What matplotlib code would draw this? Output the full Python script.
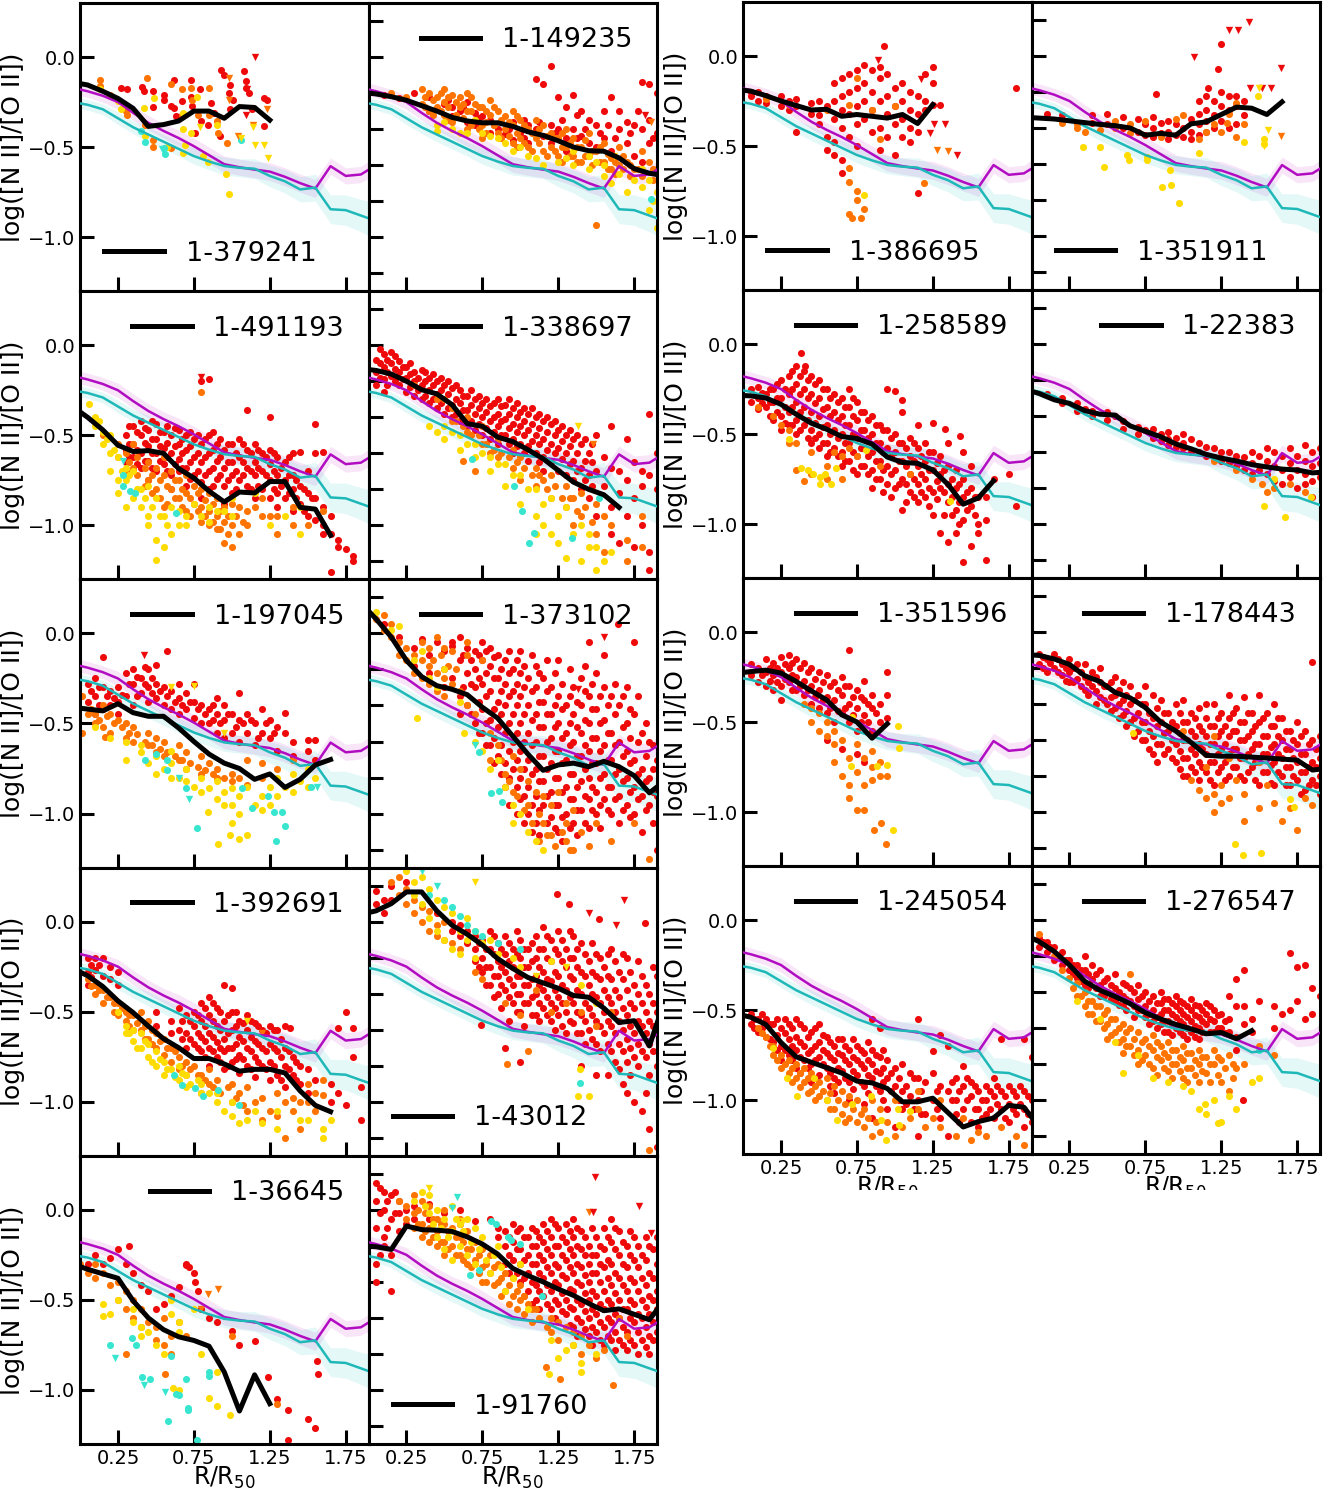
import numpy as np
import matplotlib.pyplot as plt
from matplotlib.patches import Rectangle

# radial bins (R/R50) shared by the reference profiles and the galaxy medians
r_grid = [-0.05, 0.05, 0.15, 0.25, 0.35, 0.45, 0.55, 0.65, 0.75, 0.85, 0.95,
          1.05, 1.15, 1.25, 1.35, 1.45, 1.55, 1.65, 1.75, 1.85, 1.95]

# reference profiles (magenta / cyan) with their scatter
ref_m = [-0.17, -0.19, -0.215, -0.25, -0.31, -0.365, -0.41, -0.45, -0.495, -0.545, -0.595,
         -0.612, -0.625, -0.636, -0.665, -0.70, -0.73, -0.606, -0.66, -0.652, -0.60]
ref_m_err = [0.035, 0.035, 0.035, 0.04, 0.04, 0.04, 0.04, 0.045, 0.045, 0.045, 0.045,
             0.045, 0.045, 0.05, 0.05, 0.05, 0.05, 0.045, 0.045, 0.045, 0.05]
ref_c = [-0.25, -0.265, -0.29, -0.34, -0.39, -0.43, -0.47, -0.51, -0.55, -0.58, -0.605,
         -0.615, -0.62, -0.66, -0.69, -0.735, -0.725, -0.845, -0.85, -0.88, -0.91]
ref_c_err = [0.03, 0.03, 0.03, 0.035, 0.035, 0.04, 0.04, 0.04, 0.045, 0.045, 0.05,
             0.05, 0.055, 0.06, 0.065, 0.07, 0.075, 0.08, 0.085, 0.09, 0.10]

# ---------------- 1-379241 ----------------
med_379241 = [-0.14, -0.155, -0.19, -0.23, -0.285, -0.385, -0.375, -0.355, -0.30, -0.30, -0.34, -0.275, -0.28, -0.35]
red_379241 = [(0.27, [-0.17]), (0.31, [-0.18]), (0.41, [-0.165]), (0.42, [-0.19]), (0.48, [-0.28, -0.19]),
              (0.55, [-0.21, -0.236]), (0.60, [-0.27]), (0.62, [-0.282, -0.125]), (0.63, [-0.33]), (0.67, [-0.245]),
              (0.73, [-0.13, -0.22]), (0.74, [-0.27]), (0.76, [-0.42]), (0.79, [-0.18]), (0.80, [-0.357]),
              (0.84, [-0.375]), (0.86, [-0.255]), (0.88, [-0.31]), (0.92, [-0.44]), (0.93, [-0.07]),
              (0.95, [-0.097]), (0.98, [-0.20]), (0.99, [-0.153, -0.29]), (1.01, [-0.236]), (1.08, [-0.079]),
              (1.09, [-0.134, -0.17]), (1.11, [-0.20]), (1.13, [-0.29]), (1.21, [-0.227, -0.384]), (1.23, [-0.236])]
orange_379241 = [(0.13, [-0.13, -0.16]), (0.20, [-0.21]), (0.30, [-0.30]), (0.31, [-0.32]), (0.43, [-0.375]),
                 (0.44, [-0.117]), (0.48, [-0.46, -0.50]), (0.60, [-0.505, -0.15]), (0.67, [-0.18, -0.32]),
                 (0.73, [-0.17]), (0.74, [-0.24]), (0.78, [-0.32]), (0.85, [-0.17, -0.32]), (0.90, [-0.357]),
                 (0.91, [-0.42]), (0.97, [-0.48])]
yellow_379241 = [(0.13, [-0.18]), (0.25, [-0.245]), (0.27, [-0.29]), (0.42, [-0.282]), (0.43, [-0.44]),
                 (0.49, [-0.227]), (0.57, [-0.50]), (0.68, [-0.31, -0.40, -0.53]), (0.69, [-0.486]), (0.73, [-0.42]),
                 (0.77, [-0.22]), (0.81, [-0.55]), (0.84, [-0.58]), (0.90, [-0.38]), (0.96, [-0.65]), (0.98, [-0.76])]
cyan_379241 = [(0.40, [-0.41]), (0.43, [-0.47]), (0.55, [-0.505]), (0.56, [-0.54]), (1.06, [-0.46])]
tri_379241 = [(1.15, 0.0, 'r'), (1.10, -0.18, 'r'), (1.09, -0.32, 'r'), (1.04, -0.44, 'o'), (1.14, -0.375, 'o'),
              (1.23, -0.29, 'o'), (0.98, -0.236, 'o'), (0.98, -0.115, 'o'), (0.79, -0.39, 'y'), (1.14, -0.39, 'y'),
              (1.15, -0.486, 'y'), (1.21, -0.486, 'y'), (1.24, -0.56, 'y'), (1.06, -0.45, 'y'), (0.54, -0.51, 'c')]

# ---------------- 1-149235 ----------------
med_149235 = [-0.195, -0.205, -0.22, -0.24, -0.27, -0.30, -0.335, -0.355, -0.365, -0.365, -0.385,
              -0.415, -0.435, -0.465, -0.50, -0.52, -0.523, -0.56, -0.62, -0.645, -0.66]
red_149235 = [(0.10, [-0.21]), (0.20, [-0.23]), (0.30, [-0.20]), (0.40, [-0.22, -0.30]), (0.50, [-0.26]),
              (0.55, [-0.28, -0.33]), (0.60, [-0.30]), (0.65, [-0.25, -0.36]), (0.70, [-0.31, -0.38]),
              (0.75, [-0.33]), (0.80, [-0.35, -0.42]), (0.85, [-0.40]), (0.90, [-0.43]), (0.95, [-0.36, -0.46]),
              (1.00, [-0.42]), (1.05, [-0.38, -0.48]), (1.10, [-0.12, -0.40]), (1.15, [-0.15, -0.44]),
              (1.20, [-0.05, -0.38, -0.48]), (1.25, [-0.22, -0.40]), (1.30, [-0.28, -0.45, -0.52]),
              (1.35, [-0.21, -0.40]), (1.40, [-0.30, -0.44]), (1.45, [-0.35, -0.48]), (1.50, [-0.38, -0.50]),
              (1.55, [-0.30, -0.45]), (1.60, [-0.22, -0.52]), (1.65, [-0.30, -0.40]), (1.70, [-0.36, -0.48]),
              (1.75, [-0.38, -0.55]), (1.80, [-0.14, -0.40, -0.58]), (1.85, [-0.15, -0.35, -0.48]),
              (1.90, [-0.20, -0.42])]
red_149235_b = [(0.525, [-0.24]), (0.625, [-0.28]), (0.725, [-0.34]), (0.825, [-0.38]), (0.925, [-0.40]),
                (1.025, [-0.35, -0.45]), (1.125, [-0.36]), (1.225, [-0.42]), (1.275, [-0.35]), (1.375, [-0.32, -0.45]),
                (1.425, [-0.40]), (1.525, [-0.42]), (1.575, [-0.38]), (1.625, [-0.45]), (1.725, [-0.42]),
                (1.775, [-0.30]), (1.875, [-0.45])]
orange_149235 = [(0.15, [-0.20]), (0.25, [-0.22]), (0.35, [-0.18, -0.26]), (0.40, [-0.20, -0.30]),
                 (0.45, [-0.22, -0.28]), (0.50, [-0.18, -0.25, -0.32]), (0.55, [-0.21, -0.36]), (0.60, [-0.22, -0.28]),
                 (0.65, [-0.20, -0.30, -0.40]), (0.70, [-0.26, -0.35]), (0.75, [-0.28, -0.38, -0.45]),
                 (0.80, [-0.24, -0.32]), (0.85, [-0.30, -0.42]), (0.90, [-0.33, -0.40]), (0.95, [-0.30, -0.38, -0.48]),
                 (1.00, [-0.35, -0.45]), (1.05, [-0.40, -0.50]), (1.10, [-0.35, -0.45]), (1.15, [-0.38, -0.52]),
                 (1.20, [-0.42, -0.50]), (1.25, [-0.45, -0.55]), (1.30, [-0.40, -0.50]), (1.35, [-0.45, -0.55]),
                 (1.40, [-0.50, -0.58]), (1.45, [-0.42, -0.55]), (1.50, [-0.52, -0.93]), (1.55, [-0.48, -0.58]),
                 (1.60, [-0.56, -0.62]), (1.65, [-0.50, -0.60]), (1.70, [-0.58]), (1.75, [-0.62]),
                 (1.80, [-0.52, -0.66]), (1.85, [-0.58]), (1.90, [-0.62])]
orange_149235_b = [(0.375, [-0.22, -0.28]), (0.425, [-0.24, -0.32]), (0.475, [-0.20, -0.30]),
                   (0.525, [-0.22, -0.28, -0.35]), (0.575, [-0.25, -0.32]), (0.625, [-0.26, -0.34]),
                   (0.675, [-0.22, -0.30, -0.38]), (0.725, [-0.28, -0.40]), (0.775, [-0.30, -0.36, -0.42]),
                   (0.825, [-0.28, -0.38]), (0.875, [-0.35, -0.45]), (0.925, [-0.36, -0.44]),
                   (0.975, [-0.33, -0.42, -0.50]), (1.025, [-0.38, -0.48]), (1.075, [-0.42, -0.52]),
                   (1.125, [-0.40, -0.48]), (1.175, [-0.44, -0.55]), (1.225, [-0.45, -0.52]),
                   (1.275, [-0.42, -0.50, -0.58]), (1.325, [-0.48, -0.55]), (1.375, [-0.50, -0.58]),
                   (1.425, [-0.46, -0.55]), (1.475, [-0.52, -0.60]), (1.525, [-0.50, -0.58]), (1.575, [-0.54, -0.62]),
                   (1.625, [-0.58, -0.65]), (1.675, [-0.55, -0.62]), (1.725, [-0.60, -0.66]), (1.775, [-0.62]),
                   (1.875, [-0.62, -0.68])]
yellow_149235 = [(0.45, [-0.38, -0.41]), (0.50, [-0.36]), (0.55, [-0.40]), (0.60, [-0.42]), (0.65, [-0.42]),
                 (0.70, [-0.35]), (0.75, [-0.42]), (0.80, [-0.44]), (0.85, [-0.45]), (0.90, [-0.48]), (0.95, [-0.52]),
                 (1.00, [-0.50]), (1.05, [-0.55]), (1.10, [-0.56]), (1.15, [-0.60]), (1.25, [-0.58]), (1.30, [-0.56]),
                 (1.35, [-0.52, -0.60]), (1.45, [-0.55, -0.62]), (1.50, [-0.58]), (1.55, [-0.60, -0.66]),
                 (1.60, [-0.70]), (1.65, [-0.65]), (1.70, [-0.75]), (1.75, [-0.68]), (1.80, [-0.62, -0.72]),
                 (1.85, [-0.68, -0.85]), (1.875, [-0.80]), (1.90, [-0.75, -0.95])]
cyan_149235 = [(1.86, [-0.79])]
tri_149235 = [(1.82, -0.32, 'r'), (1.86, -0.36, 'o'), (1.62, -0.55, 'y')]

# ---------------- 1-491193 ----------------
med_491193 = [-0.34, -0.40, -0.47, -0.555, -0.59, -0.585, -0.60, -0.685, -0.737, -0.81, -0.87,
              -0.815, -0.82, -0.757, -0.757, -0.90, -0.91, -1.055]
red_491193 = [(0.30, [-0.50, -0.58, -0.65]), (0.35, [-0.45, -0.55, -0.62, -0.70]), (0.40, [-0.42, -0.50, -0.60, -0.68]),
              (0.45, [-0.47, -0.56, -0.64, -0.75]), (0.50, [-0.44, -0.52, -0.60, -0.70]), (0.55, [-0.48, -0.57, -0.66]),
              (0.60, [-0.50, -0.60, -0.72, -0.80]), (0.65, [-0.47, -0.55, -0.63, -0.70]),
              (0.70, [-0.50, -0.58, -0.68, -0.78]), (0.75, [-0.52, -0.62, -0.72]),
              (0.80, [-0.20, -0.55, -0.65, -0.76, -0.85]), (0.85, [-0.19, -0.50, -0.60, -0.70, -0.80]),
              (0.90, [-0.55, -0.64, -0.74]), (0.95, [-0.58, -0.68, -0.78, -0.88]), (1.00, [-0.55, -0.65, -0.72, -0.82]),
              (1.05, [-0.52, -0.62, -0.75]), (1.10, [-0.36, -0.58, -0.68, -0.78]), (1.15, [-0.55, -0.65, -0.72, -0.85]),
              (1.20, [-0.60, -0.70, -0.80]), (1.25, [-0.40, -0.58, -0.66, -0.75, -0.85]),
              (1.30, [-0.62, -0.72, -0.82, -0.90]), (1.35, [-0.65, -0.75, -0.85]), (1.40, [-0.60, -0.72, -0.80, -0.92]),
              (1.45, [-0.59, -0.78, -0.88]), (1.50, [-0.70, -0.82, -0.95]), (1.55, [-0.44, -0.60, -0.85, -0.97]),
              (1.60, [-0.59, -0.90, -1.00, -1.05]), (1.65, [-0.95, -1.05, -1.26]), (1.70, [-1.08, -1.12]),
              (1.75, [-1.13]), (1.80, [-1.17, -1.20])]
red_491193_b = [(0.325, [-0.45, -0.55, -0.62]), (0.375, [-0.48, -0.58, -0.66]), (0.425, [-0.46, -0.54, -0.64]),
                (0.475, [-0.42, -0.52, -0.60, -0.68]), (0.525, [-0.48, -0.56, -0.64]),
                (0.575, [-0.45, -0.54, -0.62, -0.70]), (0.625, [-0.46, -0.56, -0.66]), (0.675, [-0.52, -0.60, -0.68]),
                (0.725, [-0.48, -0.56, -0.65, -0.74]), (0.775, [-0.50, -0.60, -0.70]), (0.825, [-0.52, -0.62, -0.72]),
                (0.875, [-0.48, -0.58, -0.68, -0.78]), (0.925, [-0.52, -0.62, -0.72]), (0.975, [-0.55, -0.65, -0.75]),
                (1.025, [-0.60, -0.70, -0.80]), (1.075, [-0.55, -0.65, -0.72]), (1.125, [-0.60, -0.70, -0.80]),
                (1.175, [-0.58, -0.68, -0.78]), (1.225, [-0.62, -0.72]), (1.275, [-0.60, -0.70, -0.80]),
                (1.325, [-0.68, -0.78]), (1.375, [-0.62, -0.72, -0.82]), (1.425, [-0.75, -0.85]),
                (1.475, [-0.80, -0.92]), (1.525, [-0.85])]
orange_491193 = [(0.15, [-0.50]), (0.25, [-0.55, -0.62]), (0.30, [-0.60, -0.70]), (0.35, [-0.55, -0.68]),
                 (0.45, [-0.65, -0.75]), (0.50, [-0.68, -0.80]), (0.55, [-0.62, -0.72, -0.90]), (0.60, [-0.70, -0.80]),
                 (0.65, [-0.75, -0.85]), (0.70, [-0.72, -0.82, -0.92]), (0.75, [-0.78, -0.88]),
                 (0.80, [-0.26, -0.80, -0.90, -0.98]), (0.85, [-0.82, -0.92, -1.00]), (0.90, [-0.85, -0.95, -1.02]),
                 (0.95, [-0.90, -0.98, -1.10]), (1.00, [-0.88, -1.00, -1.12]), (1.05, [-0.90, -1.05]),
                 (1.10, [-0.92, -1.00]), (1.20, [-0.85, -0.95]), (1.30, [-0.95, -1.05]), (1.40, [-0.90, -1.00]),
                 (1.50, [-1.00]), (1.60, [-0.92])]
orange_491193_b = [(0.325, [-0.65]), (0.375, [-0.62, -0.72]), (0.425, [-0.68, -0.78]), (0.475, [-0.72, -0.82]),
                   (0.525, [-0.75, -0.85]), (0.575, [-0.78, -0.88]), (0.625, [-0.75, -0.85]), (0.675, [-0.80, -0.90]),
                   (0.725, [-0.85, -0.95]), (0.775, [-0.82, -0.92]), (0.825, [-0.86, -0.95]), (0.875, [-0.88, -0.98]),
                   (0.925, [-0.92, -1.02]), (0.975, [-0.95, -1.05]), (1.025, [-0.95]), (1.075, [-0.98]),
                   (1.15, [-0.90]), (1.25, [-0.95])]
yellow_491193 = [(0.06, [-0.325]), (0.10, [-0.40, -0.45]), (0.125, [-0.42]), (0.15, [-0.48, -0.55]), (0.175, [-0.52]),
                 (0.20, [-0.50, -0.60, -0.70]), (0.225, [-0.58]), (0.25, [-0.62, -0.75, -0.82]), (0.275, [-0.70]),
                 (0.30, [-0.68, -0.75, -0.90]), (0.325, [-0.72]), (0.35, [-0.70, -0.85]), (0.375, [-0.80]),
                 (0.40, [-0.80, -0.90]), (0.425, [-0.85]), (0.45, [-0.78, -0.95, -1.00]), (0.475, [-0.90]),
                 (0.50, [-0.85, -1.08, -1.19]), (0.525, [-0.95]), (0.55, [-0.95, -1.12]), (0.575, [-1.00]),
                 (0.60, [-0.90, -1.05]), (0.65, [-0.92, -1.00]), (0.70, [-0.95, -1.00]), (0.75, [-0.88]),
                 (0.80, [-0.95]), (0.85, [-0.90, -0.98]), (0.90, [-0.92]), (0.95, [-0.92]), (1.00, [-0.85, -0.95]),
                 (1.15, [-0.82]), (1.25, [-1.00]), (1.35, [-0.95]), (1.45, [-0.90, -1.05])]
cyan_491193 = [(0.28, [-0.72, -0.78]), (0.33, [-0.81]), (0.36, [-0.82]), (0.63, [-0.93])]
tri_491193 = [(0.80, -0.175, 'r'), (0.28, -0.64, 'c')]

# ---------------- 1-338697 ----------------
med_338697 = [-0.13, -0.14, -0.16, -0.20, -0.247, -0.27, -0.33, -0.435, -0.45, -0.51, -0.535,
              -0.58, -0.63, -0.695, -0.76, -0.80, -0.83, -0.90]
red_338697 = [(0.05, [-0.08, -0.15, -0.22]), (0.10, [-0.05, -0.12, -0.19, -0.26]), (0.15, [-0.04, -0.10, -0.17]),
              (0.20, [-0.09, -0.15, -0.22]), (0.25, [-0.12, -0.18, -0.26]), (0.30, [-0.15, -0.20, -0.28]),
              (0.35, [-0.14, -0.22, -0.30]), (0.40, [-0.18, -0.25, -0.32]), (0.45, [-0.20, -0.27, -0.35]),
              (0.50, [-0.22, -0.30, -0.38]), (0.55, [-0.24, -0.33, -0.40]), (0.60, [-0.25, -0.32, -0.42]),
              (0.65, [-0.28, -0.36, -0.45]), (0.70, [-0.30, -0.38, -0.47]), (0.75, [-0.32, -0.40, -0.50]),
              (0.80, [-0.34, -0.42, -0.52]), (0.85, [-0.30, -0.38, -0.45, -0.55]), (0.90, [-0.33, -0.41, -0.50]),
              (0.95, [-0.35, -0.44, -0.52, -0.60]), (1.00, [-0.37, -0.45, -0.55]), (1.05, [-0.38, -0.47, -0.56, -0.64]),
              (1.10, [-0.40, -0.50, -0.60]), (1.15, [-0.42, -0.52, -0.62, -0.70]), (1.20, [-0.44, -0.55, -0.65]),
              (1.25, [-0.47, -0.57, -0.70]), (1.30, [-0.50, -0.60, -0.72]), (1.35, [-0.52, -0.64, -0.75]),
              (1.40, [-0.55, -0.68, -0.80]), (1.45, [-0.60, -0.72, -0.85]), (1.50, [-0.50, -0.70, -0.95]),
              (1.55, [-0.62, -0.78]), (1.60, [-0.45, -0.68, -0.90, -1.05]), (1.65, [-0.70, -0.82, -1.10]),
              (1.70, [-0.52, -0.75, -0.95]), (1.75, [-0.65, -0.85, -1.12]), (1.80, [-0.70, -0.78, -1.00]),
              (1.85, [-0.38, -0.72, -1.15, -1.25]), (1.90, [-0.60, -0.80])]
red_338697_b = [(0.075, [-0.02, -0.10, -0.18]), (0.125, [-0.08, -0.15, -0.22]), (0.175, [-0.06, -0.13, -0.20]),
                (0.225, [-0.12, -0.19]), (0.275, [-0.10, -0.16, -0.23]), (0.325, [-0.18, -0.25]),
                (0.375, [-0.15, -0.20, -0.28]), (0.425, [-0.16, -0.22, -0.30]), (0.475, [-0.18, -0.25, -0.32]),
                (0.525, [-0.20, -0.27, -0.35]), (0.575, [-0.22, -0.30, -0.38]), (0.625, [-0.28, -0.36]),
                (0.675, [-0.25, -0.33, -0.42]), (0.725, [-0.28, -0.35, -0.44]), (0.775, [-0.30, -0.37, -0.46]),
                (0.825, [-0.32, -0.40, -0.48]), (0.875, [-0.34, -0.42, -0.50]), (0.925, [-0.30, -0.38, -0.46, -0.55]),
                (0.975, [-0.32, -0.40, -0.48, -0.56]), (1.025, [-0.35, -0.42, -0.50, -0.60]),
                (1.075, [-0.35, -0.44, -0.53]), (1.125, [-0.38, -0.46, -0.55, -0.65]), (1.175, [-0.40, -0.48, -0.58]),
                (1.225, [-0.42, -0.50, -0.60]), (1.275, [-0.45, -0.53, -0.63]), (1.325, [-0.47, -0.56, -0.66]),
                (1.375, [-0.50, -0.60, -0.70]), (1.425, [-0.52, -0.64, -0.75]), (1.475, [-0.55, -0.65, -0.78])]
orange_338697 = [(0.30, [-0.22]), (0.45, [-0.30]), (0.50, [-0.30]), (0.55, [-0.35, -0.42]), (0.575, [-0.42]),
                 (0.62, [-0.64]), (0.625, [-0.45]), (0.65, [-0.40, -0.48]), (0.675, [-0.50]), (0.70, [-0.70]),
                 (0.725, [-0.50]), (0.75, [-0.45, -0.55]), (0.775, [-0.55]), (0.80, [-0.60]), (0.825, [-0.58]),
                 (0.85, [-0.52, -0.62]), (0.875, [-0.60]), (0.925, [-0.62]), (0.95, [-0.58, -0.68]), (0.975, [-0.65]),
                 (1.00, [-0.62, -0.75]), (1.025, [-0.68]), (1.075, [-0.72]), (1.10, [-0.68, -0.78]), (1.125, [-0.72]),
                 (1.15, [-0.75]), (1.175, [-0.80]), (1.20, [-0.72, -0.85]), (1.225, [-0.78]), (1.275, [-0.85]),
                 (1.30, [-0.78, -0.90]), (1.325, [-0.85]), (1.35, [-0.85, -1.00]), (1.375, [-0.92]),
                 (1.40, [-0.82, -0.95]), (1.425, [-0.90]), (1.475, [-0.98]), (1.50, [-0.88, -1.05]),
                 (1.55, [-0.95, -1.15]), (1.60, [-1.00]), (1.70, [-1.08, -1.20]), (1.80, [-0.95, -1.12])]
yellow_338697 = [(0.40, [-0.45]), (0.45, [-0.48]), (0.50, [-0.45, -0.52]), (0.55, [-0.48]), (0.60, [-0.50, -0.58]),
                 (0.65, [-0.55]), (0.70, [-0.55, -0.62]), (0.75, [-0.60]), (0.80, [-0.62, -0.70]), (0.85, [-0.66]),
                 (0.90, [-0.66, -0.78]), (0.95, [-0.72]), (1.00, [-0.72, -0.88]), (1.05, [-0.80]),
                 (1.10, [-0.80, -0.95, -1.05]), (1.15, [-0.88, -1.00]), (1.20, [-0.85, -1.05]), (1.25, [-0.95, -1.10]),
                 (1.30, [-0.90, -1.18]), (1.35, [-1.05]), (1.40, [-1.00, -1.20]), (1.45, [-1.05, -1.12]),
                 (1.50, [-1.12, -1.25]), (1.55, [-1.20]), (1.60, [-1.15])]
cyan_338697 = [(0.68, [-0.63]), (0.96, [-0.78]), (1.01, [-0.92]), (1.06, [-1.10]), (1.09, [-1.04]),
               (1.34, [-1.07]), (1.52, [-0.85])]
tri_338697 = [(1.38, -0.45, 'y'), (1.48, -0.55, 'o')]

# ---------------- 1-197045 ----------------
med_197045 = [-0.41, -0.42, -0.43, -0.39, -0.44, -0.46, -0.46, -0.525, -0.60, -0.67, -0.72,
              -0.75, -0.81, -0.78, -0.855, -0.81, -0.73, -0.70]
red_197045 = [(0.05, [-0.28, -0.38]), (0.075, [-0.32]), (0.10, [-0.25, -0.35, -0.45]), (0.125, [-0.30, -0.40]),
              (0.15, [-0.13, -0.30, -0.42]), (0.175, [-0.35]), (0.20, [-0.32, -0.40]), (0.225, [-0.36]),
              (0.25, [-0.30, -0.38, -0.45]), (0.275, [-0.34]), (0.30, [-0.22, -0.35]), (0.325, [-0.28]),
              (0.35, [-0.20, -0.28, -0.40]), (0.375, [-0.24, -0.35]), (0.40, [-0.25, -0.33]), (0.425, [-0.28]),
              (0.43, [-0.185]), (0.45, [-0.20, -0.30, -0.38]), (0.475, [-0.25, -0.33]), (0.50, [-0.175, -0.28, -0.36]),
              (0.525, [-0.32]), (0.55, [-0.30, -0.40]), (0.57, [-0.10]), (0.575, [-0.35]), (0.60, [-0.32, -0.42]),
              (0.625, [-0.38]), (0.65, [-0.28, -0.36, -0.45]), (0.675, [-0.40]), (0.70, [-0.33, -0.42]),
              (0.725, [-0.38]), (0.75, [-0.28, -0.38, -0.47]), (0.775, [-0.42]), (0.80, [-0.40, -0.50]),
              (0.825, [-0.45]), (0.85, [-0.42, -0.50]), (0.875, [-0.40, -0.48]), (0.90, [-0.36, -0.45, -0.55]),
              (0.925, [-0.50]), (0.95, [-0.40, -0.48, -0.58]), (0.975, [-0.45]), (1.00, [-0.45, -0.55]),
              (1.025, [-0.52]), (1.05, [-0.33, -0.48, -0.60]), (1.075, [-0.50]), (1.10, [-0.45, -0.55]),
              (1.125, [-0.48]), (1.15, [-0.50, -0.62]), (1.175, [-0.58]), (1.20, [-0.42, -0.55]), (1.225, [-0.50]),
              (1.25, [-0.48, -0.58]), (1.275, [-0.55]), (1.30, [-0.52, -0.65]), (1.35, [-0.44, -0.55]),
              (1.40, [-0.60, -0.68]), (1.50, [-0.59, -0.65]), (1.55, [-0.59, -0.70])]
orange_197045 = [(0.01, [-0.35, -0.555]), (0.05, [-0.45]), (0.075, [-0.42]), (0.10, [-0.45, -0.50]), (0.125, [-0.48]),
                 (0.15, [-0.40, -0.52]), (0.165, [-0.576]), (0.175, [-0.46]), (0.20, [-0.45, -0.55]), (0.225, [-0.50]),
                 (0.25, [-0.48]), (0.275, [-0.52]), (0.30, [-0.50, -0.58]), (0.325, [-0.55]), (0.35, [-0.52, -0.60]),
                 (0.375, [-0.56]), (0.425, [-0.60]), (0.45, [-0.55, -0.62]), (0.475, [-0.62]), (0.50, [-0.58, -0.66]),
                 (0.525, [-0.64]), (0.55, [-0.60, -0.68]), (0.575, [-0.66]), (0.625, [-0.68]), (0.65, [-0.62, -0.70]),
                 (0.675, [-0.70]), (0.70, [-0.66, -0.75]), (0.725, [-0.72]), (0.775, [-0.74]), (0.80, [-0.68, -0.78]),
                 (0.825, [-0.76]), (0.85, [-0.72]), (0.875, [-0.78]), (0.90, [-0.75, -0.80]), (0.95, [-0.80]),
                 (1.00, [-0.78, -0.82]), (1.05, [-0.80]), (1.10, [-0.70, -0.84]), (1.20, [-0.72, -0.80]),
                 (1.30, [-0.75]), (1.40, [-0.70])]
yellow_197045 = [(0.10, [-0.52]), (0.20, [-0.58]), (0.30, [-0.60, -0.70]), (0.40, [-0.62, -0.66]), (0.45, [-0.72]),
                 (0.50, [-0.68, -0.78]), (0.55, [-0.75]), (0.60, [-0.65, -0.72, -0.80]), (0.65, [-0.80]),
                 (0.70, [-0.75, -0.82]), (0.75, [-0.85]), (0.80, [-0.80, -0.88]), (0.84, [-0.99]), (0.85, [-0.86]),
                 (0.90, [-0.82, -0.92]), (0.91, [-1.17]), (0.95, [-0.88, -0.95]), (0.99, [-1.12]),
                 (1.00, [-0.86, -0.95, -1.05]), (1.05, [-0.90, -1.00, -1.14]), (1.10, [-0.85, -1.12]),
                 (1.15, [-0.95]), (1.20, [-0.90, -0.98]), (1.25, [-0.85, -0.95]), (1.30, [-0.80, -0.90]),
                 (1.35, [-0.85]), (1.40, [-0.78, -0.88]), (1.45, [-0.82]), (1.50, [-0.75, -0.85]), (1.55, [-0.80])]
cyan_197045 = [(0.43, [-0.70]), (0.50, [-0.67]), (0.57, [-0.70, -0.76]), (0.70, [-0.86]), (0.77, [-1.08]),
               (1.07, [-0.86]), (1.13, [-0.97]), (1.24, [-0.90]), (1.28, [-0.99]), (1.29, [-1.15]),
               (1.33, [-0.99]), (1.35, [-1.07]), (1.52, [-0.85])]
tri_197045 = [(0.42, -0.12, 'r'), (0.65, -0.80, 'c'), (0.72, -0.92, 'c'), (0.60, -0.30, 'y'), (0.75, -0.29, 'y'),
              (0.95, -0.55, 'y'), (1.56, -0.85, 'c')]

# ---------------- 1-373102 ----------------
med_373102 = [0.17, 0.08, -0.02, -0.15, -0.24, -0.29, -0.31, -0.34, -0.41, -0.47, -0.57,
              -0.67, -0.76, -0.73, -0.72, -0.74, -0.71, -0.74, -0.79, -0.885, -0.82]
red_373102 = [(0.10, [0.05]), (0.20, [-0.02]), (0.30, [-0.08, -0.18]), (0.35, [-0.03]), (0.40, [-0.12, -0.22]),
              (0.45, [-0.05]), (0.50, [-0.10, -0.20, -0.30]), (0.55, [-0.05, -0.07, -0.25]),
              (0.60, [-0.02, -0.15, -0.35, -0.45]), (0.65, [-0.08, -0.22, -0.40]), (0.70, [-0.10, -0.20, -0.30, -0.50]),
              (0.75, [-0.05, -0.15, -0.28, -0.42, -0.55]), (0.80, [-0.08, -0.18, -0.32, -0.48, -0.62]),
              (0.85, [-0.12, -0.25, -0.38, -0.52, -0.68]), (0.90, [-0.15, -0.28, -0.40, -0.55, -0.72, -0.85]),
              (0.95, [-0.20, -0.32, -0.45, -0.60, -0.75]), (1.00, [-0.10, -0.22, -0.35, -0.50, -0.65, -0.80, -0.92]),
              (1.05, [-0.25, -0.40, -0.55, -0.70, -0.85, -1.00]),
              (1.10, [-0.18, -0.30, -0.45, -0.60, -0.75, -0.90, -1.05]),
              (1.15, [-0.25, -0.38, -0.52, -0.68, -0.82, -0.95]), (1.20, [-0.30, -0.45, -0.58, -0.72, -0.88, -1.02]),
              (1.25, [-0.15, -0.35, -0.50, -0.65, -0.80, -0.95, -1.10]), (1.30, [-0.40, -0.55, -0.70, -0.85, -1.00]),
              (1.35, [-0.30, -0.45, -0.60, -0.78, -0.92, -1.05]), (1.40, [-0.25, -0.40, -0.55, -0.68, -0.82, -0.98]),
              (1.45, [-0.05, -0.35, -0.50, -0.65, -0.80, -0.92, -1.08]),
              (1.50, [-0.22, -0.42, -0.58, -0.72, -0.88, -1.00]),
              (1.55, [-0.12, -0.30, -0.48, -0.62, -0.78, -0.92]), (1.60, [-0.35, -0.55, -0.70, -0.85, -1.00]),
              (1.64, [0.05]), (1.65, [-0.40, -0.60, -0.75, -0.90, -1.05]), (1.70, [-0.30, -0.50, -0.65, -0.80, -0.95]),
              (1.75, [-0.05, -0.45, -0.70, -0.85, -1.00]), (1.80, [-0.55, -0.75, -0.90, -1.10]),
              (1.85, [-0.60, -0.80, -0.95]), (1.90, [-0.70, -0.90, -1.20])]
red_373102_b = [(0.625, [-0.12, -0.30]), (0.675, [-0.15, -0.28, -0.45]), (0.725, [-0.12, -0.25, -0.38, -0.55]),
                (0.775, [-0.10, -0.22, -0.35, -0.50, -0.62]), (0.825, [-0.13, -0.25, -0.42, -0.58, -0.72]),
                (0.875, [-0.20, -0.32, -0.45, -0.62, -0.78]), (0.925, [-0.10, -0.22, -0.35, -0.50, -0.65, -0.80, -0.95]),
                (0.975, [-0.15, -0.28, -0.40, -0.55, -0.70, -0.85, -1.00]),
                (1.025, [-0.18, -0.30, -0.45, -0.60, -0.75, -0.90, -1.05]),
                (1.075, [-0.12, -0.32, -0.48, -0.62, -0.78, -0.95, -1.10]),
                (1.125, [-0.22, -0.38, -0.52, -0.68, -0.82, -0.98, -1.12]),
                (1.175, [-0.15, -0.32, -0.45, -0.60, -0.75, -0.90, -1.05]),
                (1.225, [-0.22, -0.40, -0.52, -0.65, -0.80, -0.95, -1.08]),
                (1.275, [-0.28, -0.42, -0.58, -0.72, -0.88, -1.02, -1.15]),
                (1.325, [-0.20, -0.35, -0.50, -0.62, -0.78, -0.92, -1.08]),
                (1.375, [-0.38, -0.52, -0.68, -0.85, -0.98, -1.12]),
                (1.425, [-0.18, -0.32, -0.48, -0.62, -0.75, -0.90, -1.05]),
                (1.475, [-0.28, -0.42, -0.58, -0.72, -0.85, -0.98]), (1.525, [-0.35, -0.50, -0.65, -0.80, -0.95, -1.08]),
                (1.575, [-0.40, -0.55, -0.70, -0.85, -0.98]), (1.625, [-0.28, -0.45, -0.62, -0.78, -0.92]),
                (1.675, [-0.35, -0.52, -0.68, -0.82, -0.98]), (1.725, [-0.42, -0.58, -0.72, -0.88, -1.02]),
                (1.775, [-0.35, -0.60, -0.78, -0.92]), (1.825, [-0.50, -0.68, -0.82, -0.98]),
                (1.875, [-0.62, -0.75, -0.88, -1.05])]
orange_373102 = [(0.05, [0.08]), (0.10, [0.02, 0.10]), (0.15, [-0.02, 0.05]), (0.20, [-0.05, -0.12]),
                 (0.25, [-0.08, -0.15]), (0.30, [-0.12, -0.22]), (0.35, [-0.05, -0.15, -0.25]),
                 (0.40, [-0.08, -0.18, -0.28]), (0.425, [-0.15]), (0.45, [-0.02, -0.22, -0.32]), (0.475, [-0.12]),
                 (0.50, [-0.08, -0.25, -0.35]), (0.525, [-0.18]), (0.55, [-0.10, -0.28]), (0.575, [-0.20]),
                 (0.60, [-0.32]), (0.65, [-0.05, -0.12, -0.40]), (0.70, [-0.45]), (0.75, [-0.15]),
                 (0.80, [-0.55, -0.70]), (0.85, [-0.62]), (0.875, [-0.70]), (0.90, [-0.78]), (0.925, [-0.82]),
                 (0.95, [-0.68, -0.88]), (0.975, [-0.90]), (1.00, [-0.75]), (1.025, [-0.98]),
                 (1.05, [-0.82, -0.95]), (1.075, [-1.05]), (1.10, [-0.88]), (1.125, [-1.00, -1.15]),
                 (1.15, [-0.90, -1.05]), (1.175, [-1.12]), (1.20, [-0.95, -1.12]), (1.225, [-1.18]), (1.25, [-0.88]),
                 (1.275, [-1.10]), (1.30, [-1.05, -1.15]), (1.325, [-1.20]), (1.35, [-0.98, -1.20]), (1.40, [-1.10]),
                 (1.45, [-1.18]), (1.50, [-1.05]), (1.60, [-1.15]), (1.75, [-1.05]), (1.85, [-1.25])]
yellow_373102 = [(0.05, [0.12]), (0.15, [0.02]), (0.20, [0.04]), (0.30, [-0.15]), (0.32, [-0.47]), (0.35, [-0.10]),
                 (0.40, [-0.25]), (0.45, [-0.30]), (0.50, [-0.20]), (0.60, [-0.38]), (0.63, [-0.55]), (0.70, [-0.60]),
                 (0.75, [-0.65]), (0.80, [-0.75]), (0.85, [-0.70]), (0.90, [-0.85]), (0.95, [-0.95, -1.05]),
                 (1.00, [-1.00]), (1.05, [-1.10]), (1.10, [-1.15]), (1.15, [-1.20])]
cyan_373102 = [(0.73, [-0.66]), (0.81, [-0.885]), (0.86, [-0.875]), (0.88, [-0.936])]
tri_373102 = [(0.70, -0.62, 'c'), (1.55, -0.02, 'r'), (1.38, -0.31, 'r')]

# ---------------- 1-392691 ----------------
med_392691 = [-0.26, -0.30, -0.36, -0.44, -0.505, -0.58, -0.65, -0.70, -0.76, -0.76, -0.79,
              -0.83, -0.82, -0.82, -0.84, -0.94, -1.02, -1.055]
red_392691 = [(0.05, [-0.20, -0.28, -0.35]), (0.075, [-0.24, -0.31]), (0.10, [-0.20, -0.27]), (0.125, [-0.24]),
              (0.15, [-0.20, -0.30]), (0.20, [-0.25, -0.32]), (0.25, [-0.28, -0.35]), (0.50, [-0.50, -0.58]),
              (0.60, [-0.55, -0.62]), (0.65, [-0.48, -0.60]), (0.675, [-0.55, -0.65]), (0.70, [-0.52, -0.62, -0.70]),
              (0.725, [-0.55, -0.65]), (0.75, [-0.50, -0.58, -0.68]), (0.775, [-0.52, -0.62, -0.70]),
              (0.80, [-0.45, -0.55, -0.64, -0.72]), (0.825, [-0.48, -0.58, -0.66, -0.75]),
              (0.85, [-0.42, -0.52, -0.62, -0.70, -0.80]), (0.875, [-0.45, -0.55, -0.64, -0.72]),
              (0.90, [-0.48, -0.58, -0.67, -0.75]), (0.925, [-0.50, -0.60, -0.70, -0.78]),
              (0.95, [-0.35, -0.55, -0.65, -0.72, -0.82]), (0.975, [-0.52, -0.62, -0.70, -0.80]),
              (1.00, [-0.37, -0.50, -0.60, -0.70, -0.78]), (1.025, [-0.50, -0.58, -0.68, -0.76]),
              (1.05, [-0.55, -0.64, -0.74, -0.84]), (1.075, [-0.56, -0.66, -0.76]), (1.10, [-0.52, -0.60, -0.70, -0.80]),
              (1.125, [-0.55, -0.64, -0.72, -0.82]), (1.15, [-0.56, -0.66, -0.75, -0.86]), (1.175, [-0.58, -0.68, -0.78]),
              (1.20, [-0.60, -0.70, -0.80]), (1.225, [-0.62, -0.72, -0.82]), (1.25, [-0.58, -0.68, -0.78, -0.88]),
              (1.275, [-0.60, -0.70, -0.80]), (1.30, [-0.60, -0.72, -0.85]), (1.325, [-0.65, -0.75, -0.88]),
              (1.35, [-0.58, -0.70, -0.80, -0.92]), (1.375, [-0.72, -0.82]), (1.38, [-0.59]), (1.40, [-0.75, -0.85]),
              (1.425, [-0.78, -0.88]), (1.45, [-0.80, -0.90]), (1.50, [-0.82, -0.95]), (1.55, [-0.88]),
              (1.65, [-0.90, -1.00]), (1.70, [-0.59, -0.95]), (1.75, [-0.50, -1.02]), (1.80, [-0.59, -0.75]),
              (1.85, [-0.92, -1.10])]
orange_392691 = [(0.05, [-0.32]), (0.075, [-0.36]), (0.10, [-0.35, -0.40]), (0.125, [-0.38]), (0.15, [-0.38, -0.45]),
                 (0.175, [-0.42]), (0.20, [-0.42]), (0.225, [-0.45, -0.50]), (0.25, [-0.45, -0.52]), (0.275, [-0.48]),
                 (0.30, [-0.50, -0.55]), (0.325, [-0.52, -0.58]), (0.35, [-0.52, -0.60]), (0.375, [-0.56]),
                 (0.40, [-0.50, -0.60]), (0.425, [-0.58, -0.65]), (0.45, [-0.55, -0.65]), (0.475, [-0.60, -0.68]),
                 (0.50, [-0.62, -0.70]), (0.525, [-0.66]), (0.55, [-0.65, -0.74]), (0.575, [-0.70]),
                 (0.60, [-0.70, -0.78]), (0.625, [-0.72]), (0.65, [-0.75, -0.82]), (0.675, [-0.80]),
                 (0.70, [-0.78, -0.85]), (0.725, [-0.82]), (0.75, [-0.80]), (0.775, [-0.85]), (0.80, [-0.85, -0.95]),
                 (0.825, [-0.88]), (0.85, [-0.82, -0.90]), (0.875, [-0.92]), (0.90, [-0.88]), (0.925, [-0.95]),
                 (0.975, [-0.92]), (1.00, [-0.90, -1.00]), (1.025, [-0.98]), (1.05, [-0.95]), (1.075, [-1.02]),
                 (1.10, [-0.92, -1.05]), (1.15, [-1.00]), (1.20, [-0.98, -1.10]), (1.25, [-1.05]),
                 (1.30, [-0.95, -1.08]), (1.35, [-1.00, -1.20]), (1.40, [-0.98, -1.05]), (1.45, [-1.00, -1.15]),
                 (1.50, [-0.90, -1.00]), (1.55, [-0.95, -1.05]), (1.60, [-0.88, -0.96])]
yellow_392691 = [(0.25, [-0.50]), (0.30, [-0.58, -0.62]), (0.325, [-0.62]), (0.35, [-0.60, -0.66]), (0.375, [-0.70]),
                 (0.40, [-0.62, -0.70]), (0.425, [-0.66]), (0.45, [-0.68, -0.75]), (0.475, [-0.78]),
                 (0.50, [-0.72, -0.80]), (0.525, [-0.76]), (0.55, [-0.78, -0.85]), (0.575, [-0.82]), (0.60, [-0.82]),
                 (0.625, [-0.86]), (0.65, [-0.80, -0.88]), (0.675, [-0.84]), (0.70, [-0.85, -0.92]), (0.725, [-0.90]),
                 (0.775, [-0.88]), (0.80, [-0.90, -0.95]), (0.85, [-0.95]), (0.90, [-0.95, -1.00]), (0.95, [-1.05]),
                 (1.00, [-1.00, -1.08]), (1.05, [-1.12]), (1.10, [-1.10]), (1.15, [-1.05]), (1.20, [-1.12]),
                 (1.30, [-1.05, -1.15]), (1.45, [-1.10]), (1.50, [-1.10]), (1.60, [-1.15, -1.20]), (1.65, [-1.10])]
cyan_392691 = [(0.62, [-0.854]), (0.67, [-0.905]), (0.76, [-0.926]), (0.81, [-0.97]), (0.91, [-0.936]), (1.05, [-1.02])]
tri_392691 = [(1.10, -0.55, 'y'), (1.20, -0.62, 'o')]

# ---------------- 1-43012 ----------------
med_43012 = [0.04, 0.06, 0.10, 0.165, 0.165, 0.06, -0.02, -0.07, -0.13, -0.205, -0.26,
             -0.31, -0.34, -0.37, -0.41, -0.42, -0.48, -0.56, -0.55, -0.69, -0.44]
red_43012 = [(0.05, [0.10, 0.17]), (0.10, [0.12, 0.05]), (0.15, [0.20, 0.12]), (0.25, [0.22]), (0.45, [0.05]),
             (0.55, [0.00, -0.05]), (0.60, [-0.08, -0.02]), (0.65, [-0.05, -0.12]), (0.70, [-0.08, -0.15, -0.22]),
             (0.74, [-0.576]), (0.75, [-0.10, -0.20, -0.28]), (0.80, [-0.05, -0.15, -0.25, -0.35]),
             (0.85, [-0.12, -0.22, -0.30, -0.40]), (0.90, [-0.08, -0.18, -0.28, -0.38, -0.70]),
             (0.95, [-0.15, -0.25, -0.35, -0.45]), (1.00, [-0.10, -0.20, -0.30, -0.40, -0.50, -0.78]),
             (1.05, [-0.15, -0.25, -0.35, -0.45]), (1.10, [-0.08, -0.20, -0.30, -0.40, -0.52]),
             (1.15, [-0.03, -0.15, -0.28, -0.38, -0.48]), (1.20, [-0.10, -0.22, -0.33, -0.45, -0.55]),
             (1.24, [0.154]), (1.25, [-0.05, -0.18, -0.30, -0.42, -0.52]), (1.30, [-0.15, -0.25, -0.38, -0.50, -0.62]),
             (1.32, [0.10]), (1.35, [-0.08, -0.20, -0.32, -0.45, -0.56]),
             (1.40, [-0.12, -0.28, -0.40, -0.52, -0.62, -0.80]), (1.45, [-0.22, -0.35, -0.48, -0.60]),
             (1.50, [-0.18, -0.30, -0.42, -0.55, -0.68, -0.85]), (1.52, [0.014]),
             (1.55, [-0.25, -0.38, -0.50, -0.62]), (1.60, [-0.15, -0.32, -0.45, -0.58, -0.72]),
             (1.65, [-0.28, -0.42, -0.55, -0.68, -0.82]), (1.70, [-0.20, -0.38, -0.52, -0.65, -0.78, -0.95]),
             (1.75, [-0.35, -0.48, -0.62, -0.75, -1.00]), (1.80, [-0.30, -0.45, -0.58, -0.72, -1.05]),
             (1.82, [-0.01]), (1.85, [-0.40, -0.55, -0.68, -0.85, -1.15]), (1.90, [-0.30, -0.50, -0.62, -0.80, -1.25])]
red_43012_b = [(0.725, [-0.12, -0.25]), (0.775, [-0.15, -0.25, -0.35]), (0.825, [-0.08, -0.18, -0.30, -0.42]),
               (0.875, [-0.15, -0.25, -0.35, -0.48]), (0.925, [-0.12, -0.22, -0.32, -0.42, -0.55]),
               (0.975, [-0.05, -0.18, -0.30, -0.40, -0.50]), (1.025, [-0.15, -0.25, -0.35, -0.45, -0.58]),
               (1.075, [-0.12, -0.22, -0.32, -0.42, -0.52]), (1.125, [-0.15, -0.25, -0.35, -0.45, -0.55]),
               (1.175, [-0.08, -0.20, -0.32, -0.42, -0.52]), (1.225, [-0.15, -0.28, -0.38, -0.48, -0.60]),
               (1.275, [-0.10, -0.22, -0.35, -0.45, -0.58]), (1.325, [-0.05, -0.20, -0.30, -0.42, -0.55]),
               (1.375, [-0.15, -0.25, -0.38, -0.50, -0.62]), (1.425, [-0.18, -0.30, -0.45, -0.55, -0.68]),
               (1.475, [-0.12, -0.28, -0.40, -0.52, -0.65]), (1.525, [-0.20, -0.32, -0.45, -0.58, -0.72]),
               (1.575, [-0.18, -0.30, -0.42, -0.55, -0.68, -0.85]), (1.625, [-0.22, -0.38, -0.50, -0.62, -0.78]),
               (1.675, [-0.18, -0.32, -0.48, -0.60, -0.72, -0.90]), (1.725, [-0.28, -0.45, -0.58, -0.70, -0.85]),
               (1.775, [-0.22, -0.40, -0.55, -0.68, -0.80]), (1.825, [-0.35, -0.50, -0.62, -0.75, -0.95]),
               (1.875, [-0.25, -0.45, -0.58, -0.72])]
orange_43012 = [(0.15, [0.22]), (0.20, [0.15, 0.25]), (0.25, [0.10, 0.18]), (0.30, [0.05, 0.12]),
                (0.35, [0.00, 0.08]), (0.40, [-0.05, 0.06]), (0.45, [-0.02, -0.08]), (0.50, [-0.10, 0.00]),
                (0.55, [-0.12]), (0.60, [-0.15]), (0.70, [-0.28]), (0.75, [-0.32]), (0.90, [-0.45]),
                (0.91, [-0.79]), (1.00, [-0.52]), (1.05, [-0.72]), (1.10, [-0.38]), (1.20, [-0.50]), (1.30, [-0.45]),
                (1.40, [-0.50]), (1.50, [-0.58]), (1.60, [-0.50]), (1.85, [-1.27])]
yellow_43012 = [(0.25, [0.28]), (0.30, [0.22, 0.15]), (0.35, [0.25, 0.10]), (0.40, [0.18, 0.02]),
                (0.45, [0.12, -0.05]), (0.50, [0.08, -0.10]), (0.55, [0.05, -0.15]), (0.60, [-0.05, -0.18]),
                (0.65, [0.02, -0.10]), (0.70, [-0.05, -0.20]), (0.75, [-0.12]), (0.80, [-0.10]), (0.85, [-0.18]),
                (0.95, [-0.20]), (1.00, [-0.25]), (1.20, [-0.22]), (1.38, [-0.97]), (1.39, [-0.82]), (1.40, [-0.35]),
                (1.45, [-0.97]), (1.50, [-0.45])]
cyan_43012 = [(0.40, [0.15]), (0.50, [0.12]), (0.55, [0.08]), (0.60, [0.03]), (0.65, [-0.02]), (0.70, [-0.05]),
              (0.75, [-0.08]), (0.85, [-0.12]), (1.00, [-0.15]), (1.39, [-0.895])]
tri_43012 = [(1.68, 0.12, 'r'), (1.63, -0.02, 'r'), (1.45, 0.05, 'r'), (0.35, 0.28, 'c'), (0.45, 0.20, 'c'),
             (1.10, -0.30, 'y'), (1.30, -0.25, 'y'), (0.70, 0.22, 'y')]

# ---------------- 1-36645 ----------------
med_36645 = [-0.30, -0.33, -0.355, -0.38, -0.505, -0.60, -0.665, -0.705, -0.725, -0.757, -0.90, -1.117, -0.916, -1.076]
red_36645 = [(0.05, [-0.30]), (0.10, [-0.25]), (0.15, [-0.30]), (0.20, [-0.27]), (0.25, [-0.22]), (0.30, [-0.30]),
             (0.32, [-0.20]), (0.35, [-0.35]), (0.40, [-0.42]), (0.45, [-0.45]), (0.50, [-0.55]), (0.55, [-0.52]),
             (0.60, [-0.48]), (0.65, [-0.43]), (0.70, [-0.305, -0.30]), (0.72, [-0.32]), (0.75, [-0.35]),
             (0.76, [-0.40]), (0.78, [-0.45]), (0.80, [-0.55]), (0.85, [-0.60]), (0.90, [-0.62]), (1.00, [-0.67]),
             (1.05, [-0.75]), (1.15, [-0.73]), (1.24, [-0.93]), (1.30, [-1.05]), (1.37, [-1.11, -1.28]),
             (1.50, [-1.16]), (1.55, [-1.21]), (1.56, [-0.84]), (1.57, [-0.91])]
orange_36645 = [(0.00, [-0.30]), (0.05, [-0.35]), (0.10, [-0.30, -0.38]), (0.15, [-0.35]), (0.20, [-0.42]),
                (0.25, [-0.40, -0.50]), (0.30, [-0.45, -0.55, -0.80]), (0.35, [-0.50, -0.60]), (0.40, [-0.55, -0.65]),
                (0.45, [-0.62]), (0.50, [-0.65, -0.72]), (0.55, [-0.60, -0.75]), (0.56, [-0.91]), (0.60, [-0.70, -0.80]),
                (0.65, [-0.62]), (0.70, [-0.70]), (1.00, [-0.70]), (1.30, [-1.08])]
yellow_36645 = [(0.15, [-0.52, -0.59]), (0.20, [-0.58]), (0.25, [-0.50]), (0.35, [-0.55, -0.62]), (0.40, [-0.70, -0.65]),
                (0.45, [-0.68]), (0.50, [-0.75]), (0.55, [-0.80]), (0.60, [-0.50, -0.58]), (0.61, [-0.99]),
                (0.65, [-0.62, -0.68, -1.00]), (0.75, [-0.55]), (0.80, [-0.80]), (0.85, [-1.045]), (0.90, [-0.90, -1.09]),
                (0.99, [-1.14])]
cyan_36645 = [(0.20, [-0.75]), (0.34, [-0.71]), (0.37, [-0.75]), (0.41, [-0.93]), (0.46, [-0.94]), (0.58, [-1.17]),
              (0.60, [-0.81]), (0.63, [-1.02]), (0.65, [-1.03]), (0.70, [-0.94]), (0.71, [-1.10, -1.11]),
              (0.77, [-1.28]), (0.85, [-0.90, -0.92])]
tri_36645 = [(0.23, -0.82, 'c'), (0.42, -0.97, 'c'), (0.56, -1.01, 'c'), (0.80, -0.55, 'o'), (0.84, -0.47, 'o'),
             (0.91, -0.44, 'o')]

# ---------------- 1-91760 ----------------
med_91760 = [-0.20, -0.205, -0.22, -0.09, -0.11, -0.113, -0.12, -0.15, -0.19, -0.245, -0.325,
             -0.365, -0.40, -0.44, -0.475, -0.52, -0.56, -0.55, -0.58, -0.61, -0.50]
red_91760 = [(0.05, [0.15, 0.05, -0.10, -0.30, -0.40]), (0.075, [0.12, -0.02, -0.25]), (0.10, [0.10, 0.00, -0.15, -0.20]),
             (0.125, [0.05, -0.10]), (0.15, [0.08, -0.05, -0.25, -0.45]), (0.175, [0.10, -0.02]),
             (0.20, [0.05, -0.02, -0.12]), (0.25, [0.00, -0.08]), (0.30, [-0.05, 0.02]), (0.40, [0.03, -0.05]),
             (0.50, [-0.02]), (0.60, [0.00, -0.08]), (0.70, [-0.06]), (0.80, [-0.05]), (0.85, [-0.10, -0.15]),
             (0.90, [-0.12, -0.20, -0.30]), (0.95, [-0.08, -0.18, -0.28]),
             (1.00, [-0.10, -0.22, -0.30, -0.40]), (1.05, [-0.15, -0.25, -0.35, -0.45]),
             (1.10, [-0.12, -0.20, -0.30, -0.42, -0.50]), (1.15, [-0.08, -0.18, -0.28, -0.38, -0.48]),
             (1.20, [-0.05, -0.15, -0.25, -0.35, -0.45, -0.55]), (1.25, [-0.10, -0.20, -0.32, -0.42, -0.52]),
             (1.30, [-0.08, -0.18, -0.28, -0.38, -0.50, -0.58]),
             (1.35, [-0.05, -0.15, -0.25, -0.35, -0.45, -0.55, -0.65]),
             (1.40, [-0.12, -0.22, -0.32, -0.42, -0.52, -0.62]), (1.45, [-0.20, -0.30, -0.40, -0.50, -0.60, -0.70]),
             (1.50, [-0.15, -0.25, -0.35, -0.48, -0.58, -0.68]),
             (1.55, [-0.10, -0.22, -0.32, -0.45, -0.55, -0.65, -0.75]),
             (1.60, [-0.05, -0.18, -0.30, -0.42, -0.52, -0.62, -0.72]),
             (1.65, [-0.12, -0.25, -0.38, -0.50, -0.60, -0.72]), (1.70, [-0.20, -0.32, -0.45, -0.55, -0.68, -0.78]),
             (1.75, [-0.15, -0.28, -0.40, -0.52, -0.62, -0.75]), (1.80, [-0.25, -0.38, -0.50, -0.60, -0.72]),
             (1.85, [-0.20, -0.35, -0.48, -0.58, -0.70, -0.80]), (1.90, [-0.15, -0.30, -0.45, -0.55, -0.68])]
red_91760_b = [(0.925, [-0.15, -0.25, -0.35]), (0.975, [-0.12, -0.22, -0.35]), (1.025, [-0.15, -0.28, -0.38, -0.48]),
               (1.075, [-0.10, -0.20, -0.30, -0.40, -0.52]), (1.125, [-0.15, -0.25, -0.35, -0.45, -0.55]),
               (1.175, [-0.12, -0.22, -0.32, -0.42, -0.52]), (1.225, [-0.08, -0.20, -0.30, -0.40, -0.50, -0.60]),
               (1.275, [-0.15, -0.25, -0.36, -0.46, -0.56]), (1.325, [-0.12, -0.22, -0.32, -0.44, -0.54, -0.64]),
               (1.375, [-0.10, -0.20, -0.30, -0.40, -0.50, -0.60, -0.70]),
               (1.425, [-0.15, -0.25, -0.36, -0.46, -0.56, -0.66]),
               (1.475, [-0.10, -0.25, -0.35, -0.45, -0.55, -0.65, -0.75]),
               (1.525, [-0.20, -0.30, -0.40, -0.52, -0.62, -0.72]), (1.575, [-0.15, -0.28, -0.38, -0.50, -0.60, -0.70]),
               (1.625, [-0.10, -0.22, -0.35, -0.46, -0.58, -0.68, -0.78]),
               (1.675, [-0.18, -0.30, -0.42, -0.55, -0.65, -0.75]), (1.725, [-0.12, -0.25, -0.38, -0.50, -0.60, -0.72]),
               (1.775, [-0.20, -0.32, -0.45, -0.58, -0.68, -0.80]), (1.825, [-0.15, -0.28, -0.42, -0.54, -0.65, -0.76]),
               (1.875, [-0.22, -0.38, -0.50, -0.62, -0.72])]
orange_91760 = [(0.20, [0.05]), (0.25, [0.02, -0.05]), (0.30, [0.08, -0.02, -0.10]), (0.325, [0.00, -0.08]),
                (0.35, [0.05, -0.08, -0.15]), (0.375, [-0.02, -0.12]), (0.40, [0.02, -0.10, -0.18]),
                (0.425, [-0.05, -0.15]), (0.45, [-0.05, -0.12, -0.20]), (0.475, [-0.08, -0.18]),
                (0.50, [0.00, -0.08, -0.18, -0.25]), (0.525, [-0.12, -0.22]), (0.55, [-0.10, -0.20]),
                (0.575, [-0.15, -0.25]), (0.60, [-0.05, -0.15, -0.25]), (0.625, [-0.18, -0.28]),
                (0.65, [-0.12, -0.22, -0.30]), (0.675, [-0.22, -0.32]), (0.70, [-0.18, -0.28]), (0.725, [-0.25, -0.35]),
                (0.75, [-0.22, -0.32, -0.40]), (0.775, [-0.30, -0.40]), (0.80, [-0.25, -0.35]), (0.825, [-0.32, -0.42]),
                (0.85, [-0.30, -0.40]), (0.875, [-0.38, -0.48]), (0.90, [-0.35, -0.45]), (0.925, [-0.42, -0.52]),
                (0.95, [-0.38, -0.48]), (0.975, [-0.45, -0.55]), (1.00, [-0.42, -0.50]), (1.025, [-0.48, -0.58]),
                (1.05, [-0.52]), (1.075, [-0.55, -0.62]), (1.10, [-0.55]), (1.125, [-0.60]), (1.17, [-0.87]),
                (1.175, [-0.65]), (1.20, [-0.60, -0.68]), (1.25, [-0.62, -0.72]), (1.26, [-0.94]), (1.30, [-0.65]),
                (1.35, [-0.68, -0.75]), (1.40, [-0.70, -0.80]), (1.45, [-0.75]), (1.50, [-0.82]), (1.55, [-0.78]),
                (1.61, [-0.97]), (1.65, [-0.60]), (1.70, [-0.70])]
yellow_91760 = [(0.30, [0.05]), (0.35, [0.10]), (0.375, [0.02]), (0.40, [-0.02, 0.08]), (0.425, [-0.08]),
                (0.45, [0.00, -0.15]), (0.475, [-0.10]), (0.50, [-0.05, -0.22]), (0.525, [-0.15]),
                (0.55, [0.02, -0.12, -0.28]), (0.575, [-0.05]), (0.60, [-0.08, -0.20]), (0.625, [-0.12]),
                (0.65, [-0.05, -0.25]), (0.675, [-0.18]), (0.70, [-0.10, -0.30]), (0.725, [-0.22]), (0.75, [-0.15]),
                (0.775, [-0.28]), (0.80, [-0.35]), (0.825, [-0.25]), (0.85, [-0.20]), (0.875, [-0.32]), (0.90, [-0.45]),
                (0.95, [-0.38]), (1.00, [-0.30]), (1.05, [-0.55]), (1.19, [-0.91]), (1.20, [-0.72]), (1.25, [-0.82]),
                (1.30, [-0.78]), (1.35, [-0.75]), (1.40, [-0.85, -0.90]), (1.50, [-0.80])]
cyan_91760 = [(0.67, [-0.36]), (0.73, [-0.335]), (0.81, [-0.06]), (0.84, [-0.08]), (0.92, [-0.15]), (0.94, [-0.17]),
              (1.00, [-0.19]), (1.14, [-0.48])]
tri_91760 = [(1.49, 0.18, 'r'), (1.78, 0.02, 'r'), (1.45, -0.01, 'o'), (1.48, -0.01, 'r'), (1.86, -0.13, 'r'),
             (0.55, 0.01, 'c'), (0.58, 0.07, 'c'), (0.40, 0.12, 'y'), (0.62, -0.06, 'y')]

# ---------------- 1-386695 ----------------
med_386695 = [-0.185, -0.195, -0.22, -0.25, -0.275, -0.30, -0.296, -0.335, -0.325, -0.335, -0.345, -0.325, -0.375, -0.27]
red_386695 = [(0.05, [-0.20, -0.22]), (0.10, [-0.20, -0.25]), (0.15, [-0.22, -0.26]), (0.25, [-0.22, -0.28]),
              (0.30, [-0.25, -0.30]), (0.35, [-0.24, -0.28, -0.42]), (0.45, [-0.26, -0.32]),
              (0.50, [-0.25, -0.33, -0.38]), (0.55, [-0.28, -0.45, -0.52]), (0.60, [-0.15, -0.25, -0.35, -0.48, -0.55]),
              (0.65, [-0.12, -0.22, -0.30, -0.40, -0.58, -0.65]), (0.70, [-0.10, -0.20, -0.32, -0.45]),
              (0.75, [-0.08, -0.18, -0.28, -0.38, -0.50]), (0.80, [-0.05, -0.15, -0.25, -0.35]),
              (0.85, [-0.08, -0.20, -0.30, -0.42]), (0.90, [-0.06, -0.12, -0.25, -0.40, -0.52]), (0.93, [0.056]),
              (0.95, [-0.10, -0.22, -0.32, -0.45]), (1.00, [-0.18, -0.28, -0.38, -0.55]),
              (1.05, [-0.15, -0.25, -0.35, -0.45]), (1.10, [-0.20, -0.30, -0.40, -0.48]),
              (1.15, [-0.22, -0.32, -0.42, -0.76]), (1.20, [-0.10, -0.25, -0.30]), (1.25, [-0.06, -0.15, -0.27]),
              (1.30, [-0.27]), (1.80, [-0.18])]
orange_386695 = [(0.15, [-0.24]), (0.30, [-0.27]), (0.55, [-0.30]), (0.70, [-0.27, -0.62, -0.70, -0.88]),
                 (0.72, [-0.90]), (0.75, [-0.12, -0.75, -0.80]), (0.78, [-0.90]), (0.80, [-0.85]), (0.85, [-0.30]),
                 (0.90, [-0.46]), (1.00, [-0.28]), (1.19, [-0.706])]
yellow_386695 = [(0.80, [-0.77])]
cyan_386695 = []
tri_386695 = [(0.89, -0.02, 'r'), (1.17, -0.13, 'r'), (1.26, -0.38, 'r'), (1.23, -0.43, 'r'), (1.33, -0.38, 'r'),
              (1.41, -0.55, 'r'), (1.28, -0.52, 'o'), (1.35, -0.53, 'o')]

# ---------------- 1-351911 ----------------
med_351911 = [-0.34, -0.345, -0.35, -0.36, -0.37, -0.38, -0.387, -0.40, -0.44, -0.43, -0.44,
              -0.377, -0.366, -0.325, -0.284, -0.29, -0.325, -0.255]
red_351911 = [(0.10, [-0.32]), (0.20, [-0.33]), (0.40, [-0.33, -0.37]), (0.50, [-0.32, -0.38]), (0.60, [-0.34, -0.40]),
              (0.70, [-0.35, -0.42]), (0.75, [-0.38, -0.44]), (0.80, [-0.34, -0.40, -0.45]), (0.82, [-0.21]),
              (0.85, [-0.37, -0.43]), (0.90, [-0.36, -0.42, -0.46]), (0.95, [-0.38, -0.44]), (1.00, [-0.40, -0.45]),
              (1.05, [-0.35, -0.42, -0.46]), (1.10, [-0.25, -0.32, -0.38, -0.44]), (1.15, [-0.22, -0.30, -0.36, -0.42]),
              (1.16, [-0.18]), (1.20, [-0.25, -0.33, -0.40]), (1.23, [-0.074]), (1.25, [0.066, -0.20, -0.28, -0.36]),
              (1.30, [-0.22, -0.30, -0.40]), (1.35, [-0.22, -0.28, -0.38]), (1.40, [-0.25, -0.33])]
orange_351911 = [(0.20, [-0.37]), (0.30, [-0.38, -0.40]), (0.35, [-0.42]), (0.45, [-0.41]), (0.55, [-0.40, -0.36]),
                 (0.65, [-0.38, -0.43]), (0.75, [-0.36]), (0.85, [-0.45]), (0.95, [-0.35]), (1.00, [-0.33]),
                 (1.10, [-0.46]), (1.15, [-0.42]), (1.20, [-0.38]), (1.25, [-0.42]), (1.29, [-0.37]),
                 (1.30, [-0.32]), (1.35, [-0.26, -0.45]), (1.40, [-0.38])]
yellow_351911 = [(0.34, [-0.506]), (0.45, [-0.506]), (0.48, [-0.617]), (0.63, [-0.55]), (0.64, [-0.58]),
                 (0.76, [-0.56, -0.58]), (0.86, [-0.726]), (0.91, [-0.634]), (0.92, [-0.716]), (0.97, [-0.815]),
                 (1.10, [-0.54]), (1.40, [-0.48]), (1.49, [-0.22]), (1.53, [-0.46, -0.49])]
cyan_351911 = []
tri_351911 = [(1.07, -0.006, 'r'), (1.30, 0.144, 'r'), (1.36, 0.144, 'r'), (1.43, 0.19, 'r'), (1.64, -0.064, 'r'),
              (1.44, -0.175, 'r'), (1.52, -0.175, 'r'), (1.58, -0.175, 'r'), (1.64, -0.445, 'o'),
              (1.56, -0.41, 'y'), (1.53, -0.50, 'y'), (1.50, -0.18, 'y')]

# ---------------- 1-258589 ----------------
med_258589 = [-0.285, -0.288, -0.30, -0.335, -0.39, -0.44, -0.473, -0.514, -0.525, -0.556, -0.628,
              -0.658, -0.663, -0.70, -0.78, -0.89, -0.855, -0.76]
red_258589 = [(0.05, [-0.25, -0.32]), (0.10, [-0.24, -0.30, -0.36]), (0.15, [-0.28, -0.35]),
              (0.20, [-0.25, -0.32, -0.42]), (0.25, [-0.20, -0.30, -0.40, -0.48]), (0.30, [-0.18, -0.28, -0.38, -0.45]),
              (0.35, [-0.12, -0.22, -0.32, -0.42, -0.50]), (0.38, [-0.05]), (0.40, [-0.15, -0.25, -0.35, -0.45]),
              (0.41, [-0.12]), (0.45, [-0.18, -0.28, -0.38, -0.48, -0.55]), (0.50, [-0.20, -0.30, -0.40, -0.50, -0.58]),
              (0.55, [-0.25, -0.35, -0.45, -0.55, -0.62]), (0.60, [-0.28, -0.38, -0.48, -0.58]),
              (0.65, [-0.30, -0.40, -0.50, -0.60, -0.68]), (0.70, [-0.25, -0.35, -0.45, -0.55, -0.65]),
              (0.75, [-0.32, -0.42, -0.52, -0.62, -0.72]), (0.80, [-0.38, -0.48, -0.58, -0.68]),
              (0.85, [-0.40, -0.50, -0.60, -0.70, -0.80]), (0.90, [-0.45, -0.55, -0.65, -0.75]),
              (0.95, [-0.25, -0.48, -0.58, -0.68, -0.78]), (1.00, [-0.26, -0.50, -0.60, -0.70, -0.80]),
              (1.05, [-0.31, -0.38, -0.55, -0.65, -0.75, -0.92]), (1.10, [-0.52, -0.62, -0.72, -0.82]),
              (1.15, [-0.45, -0.58, -0.68, -0.78, -0.88]), (1.20, [-0.55, -0.65, -0.75, -0.85]),
              (1.25, [-0.44, -0.60, -0.70, -0.82, -0.95]), (1.30, [-0.62, -0.72, -0.80, -1.05]),
              (1.33, [-0.47]), (1.35, [-0.55, -0.68, -0.78, -0.88, -1.10]), (1.40, [-0.70, -0.80, -0.92, -1.05]),
              (1.43, [-0.51]), (1.45, [-0.60, -0.75, -0.85, -0.98, -1.21]), (1.50, [-0.68, -0.80, -0.90, -1.12]),
              (1.55, [-0.85, -1.00, -1.05]), (1.60, [-0.85, -0.98, -1.20]), (1.65, [-0.75]), (1.75, [-0.72]),
              (1.80, [-0.90])]
red_258589_b = [(0.125, [-0.27, -0.33]), (0.175, [-0.25, -0.32, -0.40]), (0.225, [-0.22, -0.30, -0.38]),
                (0.275, [-0.25, -0.35, -0.44]), (0.325, [-0.15, -0.25, -0.35, -0.45]),
                (0.375, [-0.18, -0.28, -0.38, -0.48]), (0.425, [-0.20, -0.30, -0.42, -0.52]),
                (0.475, [-0.22, -0.33, -0.44, -0.52]), (0.525, [-0.25, -0.36, -0.46, -0.55]),
                (0.575, [-0.30, -0.40, -0.50, -0.60]), (0.625, [-0.32, -0.42, -0.52, -0.62]),
                (0.675, [-0.35, -0.45, -0.55, -0.65]), (0.725, [-0.30, -0.40, -0.50, -0.60, -0.70]),
                (0.775, [-0.38, -0.48, -0.58, -0.68]), (0.825, [-0.42, -0.52, -0.62, -0.72]),
                (0.875, [-0.45, -0.55, -0.65, -0.75]), (0.925, [-0.48, -0.60, -0.70, -0.82]),
                (0.975, [-0.52, -0.62, -0.72, -0.85]), (1.025, [-0.55, -0.65, -0.78]),
                (1.075, [-0.58, -0.68, -0.78, -0.88]), (1.125, [-0.55, -0.65, -0.75, -0.85]),
                (1.175, [-0.62, -0.72, -0.82]), (1.225, [-0.60, -0.70, -0.80, -0.90]), (1.275, [-0.66, -0.76, -0.86]),
                (1.325, [-0.70, -0.82, -0.95]), (1.375, [-0.75, -0.85, -0.95]), (1.425, [-0.78, -0.88, -1.00]),
                (1.475, [-0.82, -0.92]), (1.525, [-0.85, -0.95])]
orange_258589 = [(0.10, [-0.35]), (0.20, [-0.40]), (0.25, [-0.45]), (0.30, [-0.55, -0.48]), (0.35, [-0.55, -0.70]),
                 (0.40, [-0.76]), (0.45, [-0.60, -0.72]), (0.55, [-0.68, -0.75]), (0.60, [-0.60]),
                 (0.65, [-0.62, -0.75]), (0.70, [-0.58]), (0.75, [-0.62]), (0.90, [-0.68]), (1.10, [-0.72])]
yellow_258589 = [(0.30, [-0.525]), (0.38, [-0.69]), (0.43, [-0.70]), (0.46, [-0.72]), (0.51, [-0.74, -0.78]),
                 (0.54, [-0.72]), (0.58, [-0.78]), (0.61, [-0.69]), (0.81, [-0.59]), (1.36, [-0.87])]
cyan_258589 = []
tri_258589 = []

# ---------------- 1-22383 ----------------
med_22383 = [-0.25, -0.275, -0.31, -0.33, -0.37, -0.39, -0.395, -0.455, -0.485, -0.515, -0.555,
             -0.582, -0.613, -0.634, -0.65, -0.67, -0.683, -0.695, -0.70, -0.716, -0.71]
red_22383 = [(0.10, [-0.28]), (0.20, [-0.30, -0.33]), (0.30, [-0.33, -0.37]), (0.35, [-0.36]), (0.40, [-0.37, -0.40]),
             (0.50, [-0.38, -0.42]), (0.55, [-0.40]), (0.60, [-0.43, -0.47]), (0.70, [-0.46, -0.50]), (0.75, [-0.48]),
             (0.80, [-0.47, -0.52]), (0.85, [-0.50, -0.54]), (0.90, [-0.49, -0.53, -0.56]), (0.95, [-0.52, -0.57]),
             (1.00, [-0.50, -0.55, -0.58]), (1.05, [-0.53, -0.60]), (1.10, [-0.55, -0.60]), (1.15, [-0.57, -0.62]),
             (1.20, [-0.58, -0.63]), (1.25, [-0.60, -0.65]), (1.30, [-0.60, -0.66]), (1.35, [-0.62, -0.68]),
             (1.40, [-0.63, -0.70]), (1.45, [-0.60, -0.66, -0.72]), (1.50, [-0.62, -0.70]),
             (1.55, [-0.58, -0.65, -0.72]), (1.60, [-0.60, -0.68, -0.76]), (1.65, [-0.62, -0.70, -0.78]),
             (1.70, [-0.58, -0.66, -0.74]), (1.75, [-0.62, -0.70, -0.80]), (1.80, [-0.56, -0.65, -0.72, -0.78]),
             (1.85, [-0.60, -0.68, -0.76, -0.85]), (1.90, [-0.58, -0.66, -0.74])]
orange_22383 = [(1.20, [-0.65]), (1.35, [-0.70]), (1.45, [-0.75]), (1.52, [-0.78]), (1.55, [-0.82]), (1.60, [-0.80]),
                (1.70, [-0.78]), (1.80, [-0.82])]
yellow_22383 = [(1.53, [-0.90]), (1.60, [-0.75]), (1.67, [-0.96]), (1.84, [-0.85])]
cyan_22383 = []
tri_22383 = []

# ---------------- 1-351596 ----------------
med_351596 = [-0.23, -0.22, -0.212, -0.228, -0.275, -0.327, -0.377, -0.46, -0.50, -0.59, -0.51]
red_351596 = [(0.05, [-0.18, -0.24]), (0.10, [-0.20, -0.28]), (0.125, [-0.24]), (0.15, [-0.15, -0.22, -0.30]),
              (0.175, [-0.20, -0.27]), (0.20, [-0.17, -0.24, -0.32]), (0.225, [-0.20, -0.28]),
              (0.25, [-0.14, -0.22, -0.30, -0.38]), (0.275, [-0.18, -0.26]), (0.30, [-0.13, -0.20, -0.28]),
              (0.325, [-0.17, -0.24, -0.32]), (0.35, [-0.15, -0.25, -0.32]), (0.375, [-0.20, -0.30]),
              (0.40, [-0.17, -0.27, -0.35]), (0.425, [-0.22, -0.32]), (0.45, [-0.20, -0.30, -0.40]),
              (0.475, [-0.26, -0.36]), (0.50, [-0.22, -0.32, -0.42]), (0.525, [-0.28, -0.38]),
              (0.55, [-0.24, -0.36, -0.45, -0.60]), (0.575, [-0.30, -0.42]), (0.60, [-0.28, -0.38, -0.50]),
              (0.625, [-0.32, -0.44]), (0.65, [-0.25, -0.35, -0.45, -0.65]), (0.675, [-0.30, -0.42]),
              (0.70, [-0.10, -0.30, -0.40, -0.50]), (0.725, [-0.36, -0.46]), (0.75, [-0.32, -0.42, -0.55, -0.68]),
              (0.775, [-0.36, -0.50]), (0.80, [-0.27, -0.38, -0.46, -0.72]), (0.825, [-0.40, -0.50]),
              (0.85, [-0.35, -0.42, -0.55]), (0.875, [-0.45]), (0.90, [-0.40, -0.50]), (0.95, [-0.22, -0.35, -0.48])]
orange_351596 = [(0.40, [-0.40]), (0.45, [-0.42, -0.50]), (0.50, [-0.45, -0.55]), (0.55, [-0.50, -0.58]),
                 (0.60, [-0.55, -0.62, -0.72]), (0.65, [-0.60, -0.80]), (0.70, [-0.70, -0.85, -0.92]),
                 (0.75, [-0.62, -0.78, -0.99]), (0.80, [-0.70, -0.85, -0.99]), (0.85, [-0.66, -0.75, -0.82]),
                 (0.86, [-1.10]), (0.90, [-0.72, -0.80]), (0.91, [-1.06]), (0.94, [-1.18]), (0.95, [-0.80])]
yellow_351596 = [(0.71, [-0.747]), (0.72, [-0.47]), (0.88, [-0.747]), (0.95, [-0.737]), (0.99, [-1.10]),
                 (1.02, [-0.52]), (1.03, [-0.644])]
cyan_351596 = []
tri_351596 = []

# ---------------- 1-178443 ----------------
med_178443 = [-0.125, -0.13, -0.15, -0.18, -0.243, -0.275, -0.335, -0.366, -0.42, -0.50, -0.55,
              -0.613, -0.685, -0.69, -0.69, -0.695, -0.70, -0.706, -0.712, -0.767, -0.757]
red_178443 = [(0.05, [-0.12, -0.18]), (0.10, [-0.15, -0.22]), (0.15, [-0.12, -0.20]), (0.20, [-0.18, -0.24]),
              (0.25, [-0.15, -0.22, -0.28]), (0.30, [-0.18, -0.26]), (0.35, [-0.18, -0.25, -0.32]),
              (0.40, [-0.22, -0.30]), (0.45, [-0.20, -0.28, -0.36]), (0.50, [-0.30, -0.40]),
              (0.55, [-0.25, -0.35, -0.42]), (0.60, [-0.28, -0.38, -0.46]), (0.65, [-0.30, -0.40, -0.50]),
              (0.70, [-0.35, -0.45, -0.55]), (0.75, [-0.30, -0.40, -0.50, -0.60]), (0.80, [-0.35, -0.48, -0.58, -0.68]),
              (0.85, [-0.38, -0.50, -0.62]), (0.90, [-0.45, -0.55, -0.65]), (0.95, [-0.40, -0.52, -0.62, -0.72]),
              (1.00, [-0.38, -0.50, -0.60, -0.70, -0.80]), (1.05, [-0.45, -0.55, -0.65, -0.75]),
              (1.10, [-0.42, -0.52, -0.62, -0.72, -0.82]), (1.15, [-0.40, -0.48, -0.58, -0.68, -0.78]),
              (1.20, [-0.40, -0.52, -0.62, -0.72, -0.85]), (1.25, [-0.45, -0.55, -0.65, -0.75]),
              (1.30, [-0.35, -0.48, -0.58, -0.68, -0.80]), (1.35, [-0.42, -0.55, -0.65, -0.75]),
              (1.40, [-0.36, -0.50, -0.60, -0.70, -0.82]), (1.45, [-0.45, -0.55, -0.65, -0.75]),
              (1.50, [-0.35, -0.50, -0.62, -0.72, -0.85]), (1.55, [-0.45, -0.58, -0.68, -0.78]),
              (1.60, [-0.40, -0.52, -0.62, -0.72, -0.85]), (1.65, [-0.48, -0.60, -0.70, -0.80]),
              (1.70, [-0.55, -0.65, -0.75, -0.85]), (1.75, [-0.50, -0.62, -0.72, -0.82]),
              (1.80, [-0.55, -0.68, -0.78, -0.88]), (1.85, [-0.167, -0.60, -0.72, -0.82]),
              (1.90, [-0.58, -0.70, -0.80, -0.90])]
red_178443_b = [(0.075, [-0.14, -0.20]), (0.125, [-0.17]), (0.175, [-0.15, -0.22]), (0.225, [-0.20, -0.27]),
                (0.275, [-0.20, -0.28]), (0.325, [-0.22, -0.30]), (0.375, [-0.28, -0.35]), (0.425, [-0.25, -0.33, -0.40]),
                (0.475, [-0.30, -0.38]), (0.525, [-0.28, -0.36, -0.44]), (0.575, [-0.32, -0.40, -0.48]),
                (0.625, [-0.35, -0.44, -0.52]), (0.675, [-0.38, -0.48, -0.58]), (0.725, [-0.40, -0.50, -0.60]),
                (0.775, [-0.45, -0.55, -0.65]), (0.825, [-0.42, -0.52, -0.62, -0.72]), (0.875, [-0.45, -0.56, -0.68]),
                (0.925, [-0.50, -0.60, -0.70]), (0.975, [-0.45, -0.56, -0.66, -0.76]),
                (1.025, [-0.50, -0.60, -0.70, -0.80]), (1.075, [-0.48, -0.58, -0.68, -0.78]),
                (1.125, [-0.55, -0.65, -0.75]), (1.175, [-0.52, -0.62, -0.72, -0.82]),
                (1.225, [-0.48, -0.58, -0.68, -0.78]), (1.275, [-0.52, -0.62, -0.72, -0.82]),
                (1.325, [-0.45, -0.55, -0.65, -0.75]), (1.375, [-0.50, -0.60, -0.70, -0.80]),
                (1.425, [-0.45, -0.58, -0.68, -0.78]), (1.475, [-0.52, -0.62, -0.72, -0.82]),
                (1.525, [-0.48, -0.58, -0.68, -0.78]), (1.575, [-0.52, -0.64, -0.74, -0.84]),
                (1.625, [-0.48, -0.58, -0.68, -0.78]), (1.675, [-0.55, -0.65, -0.75, -0.85]),
                (1.725, [-0.60, -0.70, -0.80]), (1.775, [-0.58, -0.68, -0.78, -0.90]), (1.825, [-0.62, -0.75, -0.85]),
                (1.875, [-0.65, -0.75, -0.85])]
orange_178443 = [(1.00, [-0.55]), (1.05, [-0.82]), (1.10, [-0.88]), (1.15, [-0.75, -0.92]), (1.20, [-0.58, -0.90, -1.00]),
                 (1.25, [-0.85, -0.95]), (1.30, [-0.70, -0.92]), (1.35, [-0.82]), (1.40, [-0.90, -1.05]),
                 (1.50, [-0.72, -0.98]), (1.55, [-0.85]), (1.60, [-0.95]), (1.65, [-1.05]), (1.70, [-0.98]),
                 (1.75, [-1.10]), (1.80, [-0.92]), (1.85, [-0.96])]
yellow_178443 = [(0.67, [-0.56]), (1.34, [-1.18]), (1.39, [-1.24]), (1.51, [-1.23]), (1.70, [-0.93]), (1.73, [-0.97])]
cyan_178443 = []
tri_178443 = []

# ---------------- 1-245054 ----------------
med_245054 = [-0.52, -0.54, -0.58, -0.68, -0.76, -0.79, -0.82, -0.85, -0.895, -0.905, -0.936,
              -1.01, -1.01, -0.99, -1.07, -1.15, -1.12, -1.10, -1.03, -1.04, -1.15]
red_245054 = [(0.05, [-0.52, -0.58]), (0.10, [-0.55, -0.62]), (0.15, [-0.55, -0.65]), (0.20, [-0.58, -0.68]),
              (0.25, [-0.60, -0.70, -0.78]), (0.30, [-0.58, -0.66, -0.75]), (0.35, [-0.55, -0.65, -0.72, -0.82]),
              (0.40, [-0.60, -0.70, -0.78]), (0.45, [-0.62, -0.72, -0.80, -0.90]), (0.50, [-0.58, -0.68, -0.76, -0.86]),
              (0.55, [-0.65, -0.74, -0.82]), (0.60, [-0.70, -0.78, -0.88, -0.96]), (0.65, [-0.66, -0.75, -0.84]),
              (0.70, [-0.72, -0.80, -0.90, -1.00]), (0.75, [-0.70, -0.78, -0.86]),
              (0.80, [-0.74, -0.82, -0.92, -1.02]), (0.85, [-0.55, -0.72, -0.80, -0.88, -1.10]),
              (0.90, [-0.60, -0.76, -0.85, -0.95]), (0.95, [-0.78, -0.88, -1.05]), (1.00, [-0.82, -0.92, -1.15]),
              (1.05, [-0.80, -0.95, -1.05]), (1.10, [-0.85, -0.98]), (1.15, [-0.55, -0.88, -1.00, -1.20]),
              (1.20, [-0.90, -1.08]), (1.25, [-0.73, -0.85, -1.00]), (1.30, [-0.64, -0.92, -1.10]),
              (1.35, [-0.70, -0.95, -1.20]), (1.40, [-0.88, -1.00, -1.08]), (1.45, [-0.81, -0.92, -1.05]),
              (1.50, [-0.90, -0.98, -1.12]), (1.55, [-0.95, -1.05, -1.15]), (1.60, [-0.92, -1.00, -1.08]),
              (1.65, [-0.88, -0.98, -1.10]), (1.70, [-0.66, -0.95, -1.05]), (1.75, [-0.92, -1.02, -1.12]),
              (1.80, [-0.98, -1.08]), (1.85, [-0.66, -0.95, -1.05, -1.15]), (1.90, [-0.76, -1.00, -1.12])]
red_245054_b = [(0.075, [-0.55, -0.60]), (0.125, [-0.52, -0.60]), (0.175, [-0.58, -0.66]), (0.225, [-0.55, -0.64, -0.72]),
                (0.275, [-0.55, -0.63, -0.72]), (0.325, [-0.60, -0.70, -0.78]), (0.375, [-0.58, -0.68, -0.76, -0.85]),
                (0.425, [-0.65, -0.74, -0.82]), (0.475, [-0.60, -0.70, -0.78, -0.88]), (0.525, [-0.64, -0.72, -0.80]),
                (0.575, [-0.68, -0.76, -0.85, -0.92]), (0.625, [-0.66, -0.74, -0.82, -0.90]),
                (0.675, [-0.70, -0.78, -0.88]), (0.725, [-0.66, -0.76, -0.84, -0.94]), (0.775, [-0.72, -0.80, -0.90]),
                (0.825, [-0.68, -0.78, -0.86, -0.96]), (0.875, [-0.75, -0.84, -0.92]),
                (0.925, [-0.72, -0.82, -0.90, -1.00]), (0.975, [-0.85, -0.95]), (1.025, [-0.88, -1.00]),
                (1.075, [-0.92, -1.02]), (1.125, [-0.88, -1.05]), (1.175, [-0.95, -1.08]), (1.275, [-0.95, -1.05]),
                (1.375, [-0.90, -1.00]), (1.425, [-0.95, -1.12]), (1.475, [-0.88, -1.00]), (1.525, [-0.92, -1.05]),
                (1.575, [-1.00, -1.10]), (1.625, [-0.95, -1.05]), (1.675, [-0.92, -1.02]), (1.725, [-0.98, -1.10]),
                (1.775, [-0.95, -1.05]), (1.825, [-0.92, -1.02]), (1.875, [-0.98, -1.08])]
orange_245054 = [(0.10, [-0.60]), (0.125, [-0.63]), (0.15, [-0.65]), (0.175, [-0.70]), (0.20, [-0.70, -0.75]),
                 (0.225, [-0.78]), (0.25, [-0.75, -0.82]), (0.275, [-0.80]), (0.30, [-0.78, -0.85]),
                 (0.325, [-0.82, -0.90]), (0.35, [-0.80, -0.88]), (0.375, [-0.85, -0.93]), (0.40, [-0.82, -0.90]),
                 (0.425, [-0.88, -0.96]), (0.45, [-0.85, -0.95]), (0.475, [-0.92, -1.00]), (0.50, [-0.90, -0.98]),
                 (0.525, [-0.95]), (0.55, [-0.88, -1.00]), (0.575, [-0.96, -1.05]), (0.60, [-0.92, -1.05]),
                 (0.625, [-1.00]), (0.65, [-0.95, -1.08]), (0.675, [-1.02, -1.12]), (0.70, [-0.98, -1.10]),
                 (0.725, [-1.05]), (0.75, [-1.00, -1.12]), (0.775, [-1.08]), (0.80, [-1.05, -1.15]), (0.825, [-1.10]),
                 (0.85, [-1.00, -1.20]), (0.875, [-1.12]), (0.90, [-1.05, -1.18]), (0.95, [-1.12]),
                 (1.00, [-1.00, -1.20]), (1.05, [-1.15]), (1.10, [-1.10]), (1.15, [-0.95, -1.05]), (1.20, [-1.15]),
                 (1.25, [-1.10]), (1.30, [-1.00, -1.15]), (1.40, [-1.20]), (1.45, [-1.10]), (1.50, [-1.22]),
                 (1.55, [-1.18]), (1.60, [-1.20]), (1.70, [-1.15]), (1.80, [-1.20]), (1.85, [-1.25])]
yellow_245054 = [(0.20, [-0.71]), (0.29, [-0.875]), (0.355, [-0.98]), (0.47, [-0.875]), (0.55, [-1.00]),
                 (0.62, [-1.11]), (0.72, [-1.02]), (0.84, [-0.98]), (0.91, [-1.11]), (0.94, [-1.22]),
                 (1.02, [-1.05]), (1.03, [-1.14]), (1.10, [-1.06])]
cyan_245054 = []
tri_245054 = []

# ---------------- 1-276547 ----------------
med_276547 = [-0.08, -0.12, -0.175, -0.25, -0.34, -0.39, -0.425, -0.465, -0.515, -0.55, -0.58,
              -0.605, -0.632, -0.625, -0.66, -0.615]
red_276547 = [(0.05, [-0.10, -0.15]), (0.075, [-0.12]), (0.10, [-0.12, -0.18]), (0.125, [-0.15]), (0.15, [-0.15, -0.22]),
              (0.175, [-0.20]), (0.20, [-0.18, -0.25]), (0.225, [-0.22]), (0.25, [-0.22, -0.28]), (0.275, [-0.25, -0.30]),
              (0.30, [-0.25, -0.32]), (0.325, [-0.28, -0.34]), (0.35, [-0.20, -0.28, -0.36]), (0.375, [-0.30, -0.38]),
              (0.40, [-0.25, -0.33]), (0.425, [-0.30, -0.38]), (0.45, [-0.28, -0.36, -0.42]), (0.475, [-0.34, -0.42]),
              (0.50, [-0.32, -0.40]), (0.525, [-0.36, -0.44]), (0.55, [-0.30, -0.38, -0.45]), (0.575, [-0.40, -0.47]),
              (0.60, [-0.35, -0.42, -0.48]), (0.625, [-0.36, -0.44, -0.50]), (0.65, [-0.38, -0.45]),
              (0.675, [-0.40, -0.48, -0.54]), (0.70, [-0.36, -0.44, -0.50]), (0.725, [-0.42, -0.50]),
              (0.75, [-0.40, -0.48, -0.54]), (0.775, [-0.45, -0.52, -0.58]), (0.80, [-0.42, -0.50, -0.56]),
              (0.825, [-0.46, -0.54, -0.60]), (0.85, [-0.40, -0.46, -0.52, -0.58]), (0.875, [-0.44, -0.50, -0.56, -0.62]),
              (0.90, [-0.44, -0.50, -0.56, -0.62]), (0.925, [-0.46, -0.52, -0.58, -0.64]),
              (0.95, [-0.42, -0.48, -0.54, -0.60]), (0.975, [-0.45, -0.50, -0.56, -0.62]),
              (1.00, [-0.46, -0.52, -0.58, -0.64]), (1.025, [-0.48, -0.54, -0.60, -0.66]),
              (1.05, [-0.44, -0.50, -0.56, -0.62]), (1.075, [-0.47, -0.53, -0.59, -0.65]),
              (1.10, [-0.48, -0.54, -0.60, -0.66]), (1.125, [-0.50, -0.56, -0.62]), (1.15, [-0.46, -0.52, -0.58]),
              (1.175, [-0.48, -0.55, -0.62]), (1.20, [-0.50, -0.56, -0.62]), (1.225, [-0.53, -0.60]),
              (1.25, [-0.52, -0.60]), (1.275, [-0.56, -0.63]), (1.30, [-0.42, -0.55, -0.62]),
              (1.35, [-0.33, -0.48, -0.65, -0.72]), (1.39, [-1.00]), (1.40, [-0.28, -0.48, -0.58]),
              (1.45, [-0.55, -0.62]), (1.50, [-0.45]), (1.60, [-0.48, -0.60]), (1.65, [-0.52]), (1.70, [-0.185, -0.50]),
              (1.75, [-0.26, -0.45]), (1.80, [-0.25, -0.55]), (1.85, [-0.38, -0.52]), (1.90, [-0.42])]
orange_276547 = [(0.05, [-0.08]), (0.15, [-0.20]), (0.20, [-0.28]), (0.25, [-0.32]), (0.275, [-0.38]), (0.30, [-0.35, -0.42]),
                 (0.325, [-0.42]), (0.35, [-0.40, -0.48]), (0.375, [-0.45, -0.52]), (0.40, [-0.45, -0.52]),
                 (0.425, [-0.48, -0.56]), (0.45, [-0.48, -0.56]), (0.475, [-0.52, -0.60]), (0.50, [-0.50, -0.58, -0.66]),
                 (0.525, [-0.55, -0.64]), (0.55, [-0.55, -0.62]), (0.575, [-0.60, -0.68]), (0.60, [-0.58, -0.66, -0.74]),
                 (0.625, [-0.62, -0.70]), (0.65, [-0.30, -0.60, -0.70]), (0.675, [-0.66, -0.75]),
                 (0.70, [-0.62, -0.72, -0.80]), (0.725, [-0.68, -0.78]), (0.75, [-0.66, -0.75]), (0.775, [-0.70, -0.80]),
                 (0.80, [-0.64, -0.72, -0.82]), (0.825, [-0.68, -0.76, -0.86]), (0.85, [-0.70, -0.78]),
                 (0.875, [-0.74, -0.82]), (0.90, [-0.68, -0.76, -0.84]), (0.925, [-0.72, -0.80, -0.88]),
                 (0.95, [-0.72, -0.80]), (0.975, [-0.76, -0.84]), (1.00, [-0.70, -0.78, -0.88]),
                 (1.025, [-0.74, -0.82, -0.90]), (1.05, [-0.74, -0.82]), (1.075, [-0.78, -0.86]),
                 (1.10, [-0.72, -0.80, -0.90]), (1.125, [-0.76, -0.84]), (1.15, [-0.76, -0.85]), (1.175, [-0.80, -0.90]),
                 (1.20, [-0.72, -0.80]), (1.225, [-0.76, -0.86]), (1.25, [-0.78, -0.90]), (1.275, [-0.82]),
                 (1.30, [-0.75, -0.95]), (1.325, [-0.80, -0.88]), (1.35, [-0.82]), (1.40, [-0.80]), (1.50, [-0.70]),
                 (1.60, [-0.75])]
yellow_276547 = [(0.30, [-0.45]), (0.45, [-0.55]), (0.55, [-0.68]), (0.60, [-0.85]), (0.70, [-0.75]), (0.80, [-0.88]),
                 (0.90, [-0.90]), (1.00, [-0.92]), (1.05, [-0.95]), (1.10, [-1.05]), (1.14, [-1.02]),
                 (1.15, [-1.08]), (1.20, [-1.00]), (1.23, [-1.13]), (1.25, [-1.12]), (1.30, [-0.98]),
                 (1.35, [-1.05]), (1.45, [-0.90]), (1.50, [-0.88])]
cyan_276547 = [(1.50, [-0.72])]
tri_276547 = []

PT_COLORS = {'r': '#ee0a0a', 'o': '#ff7400', 'y': '#ffdc00', 'c': '#38e6d0'}


def expand(cols):
    xs, ys = [], []
    for x, yl in cols:
        xs += [x] * len(yl)
        ys += list(yl)
    return xs, ys


def draw_panel(ax, name, med, red, orange, yellow, cyan, tris, loc):
    m_lo = np.array(ref_m) - np.array(ref_m_err)
    m_hi = np.array(ref_m) + np.array(ref_m_err)
    c_lo = np.array(ref_c) - np.array(ref_c_err)
    c_hi = np.array(ref_c) + np.array(ref_c_err)
    ax.fill_between(r_grid, m_lo, m_hi, color='m', alpha=0.1, lw=0, zorder=1)
    ax.fill_between(r_grid, c_lo, c_hi, color='c', alpha=0.1, lw=0, zorder=1)

    for cols, key in [(red, 'r'), (orange, 'o'), (yellow, 'y'), (cyan, 'c')]:
        if cols:
            xs, ys = expand(cols)
            ax.scatter(xs, ys, s=26, color=PT_COLORS[key], lw=0, zorder=2)
    for x, y, key in tris:
        ax.scatter([x], [y], s=28, marker='v', color=PT_COLORS[key], lw=0, zorder=2)

    ax.plot(r_grid, ref_m, color='#b20cc2', lw=1.8, zorder=3)
    ax.plot(r_grid, ref_c, color='#1fb8b8', lw=1.8, zorder=3)
    ax.plot(r_grid[:len(med)], med, color='k', lw=3.6, zorder=4, label=name)

    ax.legend(loc=loc, frameon=False, fontsize=19.5, handlelength=2.2, handletextpad=0.8)
    ax.set_xlim(0.0, 1.9)
    ax.set_ylim(-1.3, 0.3)
    ax.set_xticks([0.25, 0.75, 1.25, 1.75])
    for sp in ax.spines.values():
        sp.set_linewidth(2.2)
    ax.tick_params(direction='in', length=10, width=2.2, labelsize=14)


W, H = 1336.0, 1490.0
fig = plt.figure(figsize=(W / 100, H / 100), dpi=100)

# (name, data..., legend loc, block, column, row)
panels = [
    ("1-379241", med_379241, red_379241, orange_379241, yellow_379241, cyan_379241, tri_379241, 'lower left', 0, 0, 0),
    ("1-149235", med_149235, red_149235 + red_149235_b, orange_149235 + orange_149235_b, yellow_149235, cyan_149235,
     tri_149235, 'upper right', 0, 1, 0),
    ("1-491193", med_491193, red_491193 + red_491193_b, orange_491193 + orange_491193_b, yellow_491193, cyan_491193,
     tri_491193, 'upper right', 0, 0, 1),
    ("1-338697", med_338697, red_338697 + red_338697_b, orange_338697, yellow_338697, cyan_338697, tri_338697,
     'upper right', 0, 1, 1),
    ("1-197045", med_197045, red_197045, orange_197045, yellow_197045, cyan_197045, tri_197045, 'upper right', 0, 0, 2),
    ("1-373102", med_373102, red_373102 + red_373102_b, orange_373102, yellow_373102, cyan_373102, tri_373102,
     'upper right', 0, 1, 2),
    ("1-392691", med_392691, red_392691, orange_392691, yellow_392691, cyan_392691, tri_392691, 'upper right', 0, 0, 3),
    ("1-43012", med_43012, red_43012 + red_43012_b, orange_43012, yellow_43012, cyan_43012, tri_43012,
     'lower left', 0, 1, 3),
    ("1-36645", med_36645, red_36645, orange_36645, yellow_36645, cyan_36645, tri_36645, 'upper right', 0, 0, 4),
    ("1-91760", med_91760, red_91760 + red_91760_b, orange_91760, yellow_91760, cyan_91760, tri_91760,
     'lower left', 0, 1, 4),
    ("1-386695", med_386695, red_386695, orange_386695, yellow_386695, cyan_386695, tri_386695, 'lower left', 1, 0, 0),
    ("1-351911", med_351911, red_351911, orange_351911, yellow_351911, cyan_351911, tri_351911, 'lower left', 1, 1, 0),
    ("1-258589", med_258589, red_258589 + red_258589_b, orange_258589, yellow_258589, cyan_258589, tri_258589,
     'upper right', 1, 0, 1),
    ("1-22383", med_22383, red_22383, orange_22383, yellow_22383, cyan_22383, tri_22383, 'upper right', 1, 1, 1),
    ("1-351596", med_351596, red_351596, orange_351596, yellow_351596, cyan_351596, tri_351596, 'upper right', 1, 0, 2),
    ("1-178443", med_178443, red_178443 + red_178443_b, orange_178443, yellow_178443, cyan_178443, tri_178443,
     'upper right', 1, 1, 2),
    ("1-245054", med_245054, red_245054 + red_245054_b, orange_245054, yellow_245054, cyan_245054, tri_245054,
     'upper right', 1, 0, 3),
    ("1-276547", med_276547, red_276547, orange_276547, yellow_276547, cyan_276547, tri_276547, 'upper right', 1, 1, 3),
]

# pixel geometry of the two blocks: left edge, top edge, panel size, number of rows
blocks = [(80.0, 3.0, 288.5, 288.2, 5), (743.0, 2.0, 288.5, 288.0, 4)]

for name, med, red, orange, yellow, cyan, tris, loc, b, col, row in panels:
    x0, y0, pw, ph, nrows = blocks[b]
    left = x0 + col * pw
    top = y0 + row * ph
    ax = fig.add_axes([left / W, 1 - (top + ph) / H, pw / W, ph / H])
    draw_panel(ax, name, med, red, orange, yellow, cyan, tris, loc)
    if col == 0:
        ax.set_yticks([0.0, -0.5, -1.0])
        ax.set_ylabel("log([N II]/[O II])", fontsize=18, labelpad=2)
    else:
        ax.set_yticks([0.2, 0.0, -0.2, -0.4, -0.6, -0.8, -1.0, -1.2])
        ax.tick_params(labelleft=False)
    if row == nrows - 1:
        ax.set_xlabel(r"R/R$_{50}$", fontsize=17, labelpad=-2.5)
    else:
        ax.tick_params(labelbottom=False)

# the right-hand figure is cropped just below its axis labels
fig.add_artist(Rectangle((700 / W, 0), (W - 700) / W, 1 - 1190 / H, transform=fig.transFigure,
                         facecolor='white', edgecolor='none', zorder=10))

fig.savefig("out.png", dpi=100)
